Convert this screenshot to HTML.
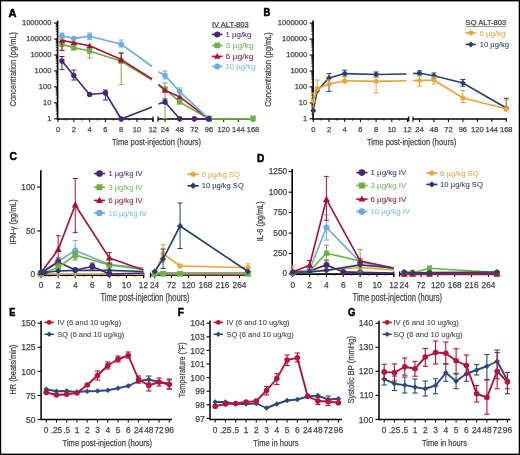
<!DOCTYPE html><html><head><meta charset="utf-8"><style>html,body{margin:0;padding:0;background:#fff;}svg{display:block;will-change:transform;}text{font-family:"Liberation Sans",sans-serif;}</style></head><body>
<svg width="520" height="455" viewBox="0 0 520 455">
<rect x="0" y="0" width="520" height="455" fill="#fff"/>
<text x="8.40" y="16.70" font-size="11.31" font-weight="bold" fill="#000" stroke="#000" stroke-width="0.55" textLength="7.90" lengthAdjust="spacingAndGlyphs">A</text>
<line x1="57.60" y1="20.50" x2="57.60" y2="119.80" stroke="#000" stroke-width="1.6"/>
<line x1="54.10" y1="118.80" x2="57.60" y2="118.80" stroke="#000" stroke-width="1.1"/>
<text x="51.50" y="120.70" font-size="7.6" fill="#474747" stroke="#474747" stroke-width="0.25" text-anchor="end">1</text>
<line x1="55.80" y1="114.00" x2="57.60" y2="114.00" stroke="#000" stroke-width="0.8"/>
<line x1="55.80" y1="111.19" x2="57.60" y2="111.19" stroke="#000" stroke-width="0.8"/>
<line x1="55.80" y1="109.20" x2="57.60" y2="109.20" stroke="#000" stroke-width="0.8"/>
<line x1="55.80" y1="107.65" x2="57.60" y2="107.65" stroke="#000" stroke-width="0.8"/>
<line x1="55.80" y1="106.39" x2="57.60" y2="106.39" stroke="#000" stroke-width="0.8"/>
<line x1="55.80" y1="105.32" x2="57.60" y2="105.32" stroke="#000" stroke-width="0.8"/>
<line x1="55.80" y1="104.40" x2="57.60" y2="104.40" stroke="#000" stroke-width="0.8"/>
<line x1="55.80" y1="103.58" x2="57.60" y2="103.58" stroke="#000" stroke-width="0.8"/>
<line x1="54.10" y1="102.85" x2="57.60" y2="102.85" stroke="#000" stroke-width="1.1"/>
<text x="51.50" y="104.75" font-size="7.6" fill="#474747" stroke="#474747" stroke-width="0.25" text-anchor="end">10</text>
<line x1="55.80" y1="98.05" x2="57.60" y2="98.05" stroke="#000" stroke-width="0.8"/>
<line x1="55.80" y1="95.24" x2="57.60" y2="95.24" stroke="#000" stroke-width="0.8"/>
<line x1="55.80" y1="93.25" x2="57.60" y2="93.25" stroke="#000" stroke-width="0.8"/>
<line x1="55.80" y1="91.70" x2="57.60" y2="91.70" stroke="#000" stroke-width="0.8"/>
<line x1="55.80" y1="90.44" x2="57.60" y2="90.44" stroke="#000" stroke-width="0.8"/>
<line x1="55.80" y1="89.37" x2="57.60" y2="89.37" stroke="#000" stroke-width="0.8"/>
<line x1="55.80" y1="88.45" x2="57.60" y2="88.45" stroke="#000" stroke-width="0.8"/>
<line x1="55.80" y1="87.63" x2="57.60" y2="87.63" stroke="#000" stroke-width="0.8"/>
<line x1="54.10" y1="86.90" x2="57.60" y2="86.90" stroke="#000" stroke-width="1.1"/>
<text x="51.50" y="88.80" font-size="7.6" fill="#474747" stroke="#474747" stroke-width="0.25" text-anchor="end">100</text>
<line x1="55.80" y1="82.10" x2="57.60" y2="82.10" stroke="#000" stroke-width="0.8"/>
<line x1="55.80" y1="79.29" x2="57.60" y2="79.29" stroke="#000" stroke-width="0.8"/>
<line x1="55.80" y1="77.30" x2="57.60" y2="77.30" stroke="#000" stroke-width="0.8"/>
<line x1="55.80" y1="75.75" x2="57.60" y2="75.75" stroke="#000" stroke-width="0.8"/>
<line x1="55.80" y1="74.49" x2="57.60" y2="74.49" stroke="#000" stroke-width="0.8"/>
<line x1="55.80" y1="73.42" x2="57.60" y2="73.42" stroke="#000" stroke-width="0.8"/>
<line x1="55.80" y1="72.50" x2="57.60" y2="72.50" stroke="#000" stroke-width="0.8"/>
<line x1="55.80" y1="71.68" x2="57.60" y2="71.68" stroke="#000" stroke-width="0.8"/>
<line x1="54.10" y1="70.95" x2="57.60" y2="70.95" stroke="#000" stroke-width="1.1"/>
<text x="51.50" y="72.85" font-size="7.6" fill="#474747" stroke="#474747" stroke-width="0.25" text-anchor="end">1000</text>
<line x1="55.80" y1="66.15" x2="57.60" y2="66.15" stroke="#000" stroke-width="0.8"/>
<line x1="55.80" y1="63.34" x2="57.60" y2="63.34" stroke="#000" stroke-width="0.8"/>
<line x1="55.80" y1="61.35" x2="57.60" y2="61.35" stroke="#000" stroke-width="0.8"/>
<line x1="55.80" y1="59.80" x2="57.60" y2="59.80" stroke="#000" stroke-width="0.8"/>
<line x1="55.80" y1="58.54" x2="57.60" y2="58.54" stroke="#000" stroke-width="0.8"/>
<line x1="55.80" y1="57.47" x2="57.60" y2="57.47" stroke="#000" stroke-width="0.8"/>
<line x1="55.80" y1="56.55" x2="57.60" y2="56.55" stroke="#000" stroke-width="0.8"/>
<line x1="55.80" y1="55.73" x2="57.60" y2="55.73" stroke="#000" stroke-width="0.8"/>
<line x1="54.10" y1="55.00" x2="57.60" y2="55.00" stroke="#000" stroke-width="1.1"/>
<text x="51.50" y="56.90" font-size="7.6" fill="#474747" stroke="#474747" stroke-width="0.25" text-anchor="end">10000</text>
<line x1="55.80" y1="50.20" x2="57.60" y2="50.20" stroke="#000" stroke-width="0.8"/>
<line x1="55.80" y1="47.39" x2="57.60" y2="47.39" stroke="#000" stroke-width="0.8"/>
<line x1="55.80" y1="45.40" x2="57.60" y2="45.40" stroke="#000" stroke-width="0.8"/>
<line x1="55.80" y1="43.85" x2="57.60" y2="43.85" stroke="#000" stroke-width="0.8"/>
<line x1="55.80" y1="42.59" x2="57.60" y2="42.59" stroke="#000" stroke-width="0.8"/>
<line x1="55.80" y1="41.52" x2="57.60" y2="41.52" stroke="#000" stroke-width="0.8"/>
<line x1="55.80" y1="40.60" x2="57.60" y2="40.60" stroke="#000" stroke-width="0.8"/>
<line x1="55.80" y1="39.78" x2="57.60" y2="39.78" stroke="#000" stroke-width="0.8"/>
<line x1="54.10" y1="39.05" x2="57.60" y2="39.05" stroke="#000" stroke-width="1.1"/>
<text x="51.50" y="40.95" font-size="7.6" fill="#474747" stroke="#474747" stroke-width="0.25" text-anchor="end">100000</text>
<line x1="55.80" y1="34.25" x2="57.60" y2="34.25" stroke="#000" stroke-width="0.8"/>
<line x1="55.80" y1="31.44" x2="57.60" y2="31.44" stroke="#000" stroke-width="0.8"/>
<line x1="55.80" y1="29.45" x2="57.60" y2="29.45" stroke="#000" stroke-width="0.8"/>
<line x1="55.80" y1="27.90" x2="57.60" y2="27.90" stroke="#000" stroke-width="0.8"/>
<line x1="55.80" y1="26.64" x2="57.60" y2="26.64" stroke="#000" stroke-width="0.8"/>
<line x1="55.80" y1="25.57" x2="57.60" y2="25.57" stroke="#000" stroke-width="0.8"/>
<line x1="55.80" y1="24.65" x2="57.60" y2="24.65" stroke="#000" stroke-width="0.8"/>
<line x1="55.80" y1="23.83" x2="57.60" y2="23.83" stroke="#000" stroke-width="0.8"/>
<line x1="54.10" y1="23.10" x2="57.60" y2="23.10" stroke="#000" stroke-width="1.1"/>
<text x="51.50" y="25.00" font-size="7.6" fill="#474747" stroke="#474747" stroke-width="0.25" text-anchor="end">1000000</text>
<line x1="57.60" y1="119.00" x2="153.00" y2="119.00" stroke="#000" stroke-width="1.6"/>
<line x1="153.00" y1="116.50" x2="153.00" y2="121.50" stroke="#000" stroke-width="1.2"/>
<line x1="58.00" y1="119.00" x2="58.00" y2="122.00" stroke="#000" stroke-width="1.0"/>
<text x="58.00" y="131.60" font-size="7.5" fill="#474747" stroke="#474747" stroke-width="0.25" text-anchor="middle">0</text>
<line x1="73.80" y1="119.00" x2="73.80" y2="122.00" stroke="#000" stroke-width="1.0"/>
<text x="73.80" y="131.60" font-size="7.5" fill="#474747" stroke="#474747" stroke-width="0.25" text-anchor="middle">2</text>
<line x1="89.60" y1="119.00" x2="89.60" y2="122.00" stroke="#000" stroke-width="1.0"/>
<text x="89.60" y="131.60" font-size="7.5" fill="#474747" stroke="#474747" stroke-width="0.25" text-anchor="middle">4</text>
<line x1="105.40" y1="119.00" x2="105.40" y2="122.00" stroke="#000" stroke-width="1.0"/>
<text x="105.40" y="131.60" font-size="7.5" fill="#474747" stroke="#474747" stroke-width="0.25" text-anchor="middle">6</text>
<line x1="121.20" y1="119.00" x2="121.20" y2="122.00" stroke="#000" stroke-width="1.0"/>
<text x="121.20" y="131.60" font-size="7.5" fill="#474747" stroke="#474747" stroke-width="0.25" text-anchor="middle">8</text>
<line x1="137.00" y1="119.00" x2="137.00" y2="122.00" stroke="#000" stroke-width="1.0"/>
<text x="137.00" y="131.60" font-size="7.5" fill="#474747" stroke="#474747" stroke-width="0.25" text-anchor="middle">10</text>
<line x1="152.80" y1="119.00" x2="152.80" y2="122.00" stroke="#000" stroke-width="1.0"/>
<text x="152.80" y="131.60" font-size="7.5" fill="#474747" stroke="#474747" stroke-width="0.25" text-anchor="middle">12</text>
<line x1="65.90" y1="119.00" x2="65.90" y2="120.60" stroke="#000" stroke-width="0.8"/>
<line x1="81.70" y1="119.00" x2="81.70" y2="120.60" stroke="#000" stroke-width="0.8"/>
<line x1="97.50" y1="119.00" x2="97.50" y2="120.60" stroke="#000" stroke-width="0.8"/>
<line x1="113.30" y1="119.00" x2="113.30" y2="120.60" stroke="#000" stroke-width="0.8"/>
<line x1="129.10" y1="119.00" x2="129.10" y2="120.60" stroke="#000" stroke-width="0.8"/>
<line x1="144.90" y1="119.00" x2="144.90" y2="120.60" stroke="#000" stroke-width="0.8"/>
<line x1="158.00" y1="116.50" x2="158.00" y2="121.50" stroke="#000" stroke-width="1.2"/>
<line x1="158.00" y1="119.00" x2="254.00" y2="119.00" stroke="#000" stroke-width="1.6"/>
<line x1="165.00" y1="119.00" x2="165.00" y2="122.00" stroke="#000" stroke-width="1.0"/>
<text x="165.00" y="131.60" font-size="7.5" fill="#474747" stroke="#474747" stroke-width="0.25" text-anchor="middle">24</text>
<line x1="179.67" y1="119.00" x2="179.67" y2="122.00" stroke="#000" stroke-width="1.0"/>
<text x="179.67" y="131.60" font-size="7.5" fill="#474747" stroke="#474747" stroke-width="0.25" text-anchor="middle">48</text>
<line x1="194.34" y1="119.00" x2="194.34" y2="122.00" stroke="#000" stroke-width="1.0"/>
<text x="194.34" y="131.60" font-size="7.5" fill="#474747" stroke="#474747" stroke-width="0.25" text-anchor="middle">72</text>
<line x1="209.01" y1="119.00" x2="209.01" y2="122.00" stroke="#000" stroke-width="1.0"/>
<text x="209.01" y="131.60" font-size="7.5" fill="#474747" stroke="#474747" stroke-width="0.25" text-anchor="middle">96</text>
<line x1="223.68" y1="119.00" x2="223.68" y2="122.00" stroke="#000" stroke-width="1.0"/>
<text x="223.68" y="131.60" font-size="7.5" fill="#474747" stroke="#474747" stroke-width="0.25" text-anchor="middle">120</text>
<line x1="238.35" y1="119.00" x2="238.35" y2="122.00" stroke="#000" stroke-width="1.0"/>
<text x="238.35" y="131.60" font-size="7.5" fill="#474747" stroke="#474747" stroke-width="0.25" text-anchor="middle">144</text>
<line x1="253.02" y1="119.00" x2="253.02" y2="122.00" stroke="#000" stroke-width="1.0"/>
<text x="253.02" y="131.60" font-size="7.5" fill="#474747" stroke="#474747" stroke-width="0.25" text-anchor="middle">168</text>
<text x="112.00" y="144.70" font-size="9.9" fill="#474747" stroke="#474747" stroke-width="0.25" font-weight="normal" textLength="89.00" lengthAdjust="spacingAndGlyphs">Time post-injection (hours)</text>
<g transform="translate(15.50,69.20) rotate(-90)"><text x="-37.30" y="0" font-size="9.6" fill="#474747" stroke="#474747" stroke-width="0.25" textLength="74.60" lengthAdjust="spacingAndGlyphs">Concentration (pg/mL)</text></g>
<text x="212.00" y="26.60" font-size="7.2" fill="#444" stroke="#444" stroke-width="0.25" font-weight="normal" textLength="36.60" lengthAdjust="spacingAndGlyphs">IV ALT-803</text>
<line x1="212.00" y1="27.60" x2="248.60" y2="27.60" stroke="#666" stroke-width="0.7"/>
<line x1="212.00" y1="34.40" x2="222.50" y2="34.40" stroke="#482672" stroke-width="1.6"/>
<circle cx="217.25" cy="34.40" r="3.00" fill="#482672"/>
<text x="225.40" y="37.00" font-size="7.6" fill="#4d3a6e" stroke="#4d3a6e" stroke-width="0.1" font-weight="normal" textLength="26.00" lengthAdjust="spacingAndGlyphs">1 µg/kg</text>
<line x1="212.00" y1="45.40" x2="222.50" y2="45.40" stroke="#6cb243" stroke-width="1.6"/>
<rect x="214.45" y="42.60" width="5.60" height="5.60" fill="#6cb243"/>
<text x="225.40" y="48.00" font-size="7.6" fill="#7fb866" stroke="#7fb866" stroke-width="0.1" font-weight="normal" textLength="28.10" lengthAdjust="spacingAndGlyphs">3 µg/kg</text>
<line x1="212.00" y1="56.40" x2="222.50" y2="56.40" stroke="#a51436" stroke-width="1.6"/>
<polygon points="217.25,53.02 220.50,58.74 214.00,58.74" fill="#a51436"/>
<text x="225.40" y="59.00" font-size="7.6" fill="#8f2444" stroke="#8f2444" stroke-width="0.1" font-weight="normal" textLength="28.10" lengthAdjust="spacingAndGlyphs">6 µg/kg</text>
<line x1="212.00" y1="66.50" x2="222.50" y2="66.50" stroke="#6cabdc" stroke-width="1.6"/>
<circle cx="217.25" cy="66.50" r="3.00" fill="#6cabdc"/>
<text x="225.40" y="69.10" font-size="7.6" fill="#86bde0" stroke="#86bde0" stroke-width="0.1" font-weight="normal" textLength="30.10" lengthAdjust="spacingAndGlyphs">10 µg/kg</text>
<polyline points="61.95,44.20 73.80,47.60 89.60,51.00 121.20,61.30 152.00,80.00" fill="none" stroke="#6cb243" stroke-width="1.65" stroke-linejoin="round"/>
<polyline points="158.50,84.70 165.00,89.00 179.67,102.00 209.01,118.80 253.02,118.80" fill="none" stroke="#6cb243" stroke-width="1.65" stroke-linejoin="round"/>
<line x1="61.95" y1="39.60" x2="61.95" y2="50.40" stroke="#6cb243" stroke-width="1.0"/>
<line x1="59.45" y1="39.60" x2="64.45" y2="39.60" stroke="#6cb243" stroke-width="1.0"/>
<line x1="59.45" y1="50.40" x2="64.45" y2="50.40" stroke="#6cb243" stroke-width="1.0"/>
<line x1="73.80" y1="45.00" x2="73.80" y2="50.00" stroke="#6cb243" stroke-width="1.0"/>
<line x1="71.30" y1="45.00" x2="76.30" y2="45.00" stroke="#6cb243" stroke-width="1.0"/>
<line x1="71.30" y1="50.00" x2="76.30" y2="50.00" stroke="#6cb243" stroke-width="1.0"/>
<line x1="89.60" y1="48.00" x2="89.60" y2="58.00" stroke="#6cb243" stroke-width="1.0"/>
<line x1="87.10" y1="48.00" x2="92.10" y2="48.00" stroke="#6cb243" stroke-width="1.0"/>
<line x1="87.10" y1="58.00" x2="92.10" y2="58.00" stroke="#6cb243" stroke-width="1.0"/>
<line x1="121.20" y1="53.00" x2="121.20" y2="84.70" stroke="#6cb243" stroke-width="1.0"/>
<line x1="118.70" y1="53.00" x2="123.70" y2="53.00" stroke="#6cb243" stroke-width="1.0"/>
<line x1="118.70" y1="84.70" x2="123.70" y2="84.70" stroke="#6cb243" stroke-width="1.0"/>
<line x1="165.00" y1="83.00" x2="165.00" y2="118.80" stroke="#6cb243" stroke-width="1.0"/>
<line x1="162.50" y1="83.00" x2="167.50" y2="83.00" stroke="#6cb243" stroke-width="1.0"/>
<line x1="162.50" y1="118.80" x2="167.50" y2="118.80" stroke="#6cb243" stroke-width="1.0"/>
<line x1="209.01" y1="116.00" x2="209.01" y2="118.80" stroke="#6cb243" stroke-width="1.0"/>
<line x1="206.51" y1="116.00" x2="211.51" y2="116.00" stroke="#6cb243" stroke-width="1.0"/>
<line x1="206.51" y1="118.80" x2="211.51" y2="118.80" stroke="#6cb243" stroke-width="1.0"/>
<line x1="253.02" y1="116.00" x2="253.02" y2="118.80" stroke="#6cb243" stroke-width="1.0"/>
<line x1="250.52" y1="116.00" x2="255.52" y2="116.00" stroke="#6cb243" stroke-width="1.0"/>
<line x1="250.52" y1="118.80" x2="255.52" y2="118.80" stroke="#6cb243" stroke-width="1.0"/>
<rect x="59.25" y="41.50" width="5.40" height="5.40" fill="#6cb243"/>
<rect x="71.10" y="44.90" width="5.40" height="5.40" fill="#6cb243"/>
<rect x="86.90" y="48.30" width="5.40" height="5.40" fill="#6cb243"/>
<rect x="118.50" y="58.60" width="5.40" height="5.40" fill="#6cb243"/>
<rect x="162.30" y="86.30" width="5.40" height="5.40" fill="#6cb243"/>
<rect x="176.97" y="99.30" width="5.40" height="5.40" fill="#6cb243"/>
<rect x="206.31" y="116.10" width="5.40" height="5.40" fill="#6cb243"/>
<rect x="250.32" y="116.10" width="5.40" height="5.40" fill="#6cb243"/>
<polyline points="61.95,40.40 73.80,42.70 89.60,45.80 121.20,59.60 152.00,79.00" fill="none" stroke="#a51436" stroke-width="1.65" stroke-linejoin="round"/>
<polyline points="158.50,84.70 165.00,90.50 179.67,96.80 209.01,118.80" fill="none" stroke="#a51436" stroke-width="1.65" stroke-linejoin="round"/>
<line x1="61.95" y1="37.00" x2="61.95" y2="50.40" stroke="#a51436" stroke-width="1.0"/>
<line x1="59.45" y1="37.00" x2="64.45" y2="37.00" stroke="#a51436" stroke-width="1.0"/>
<line x1="59.45" y1="50.40" x2="64.45" y2="50.40" stroke="#a51436" stroke-width="1.0"/>
<line x1="121.20" y1="53.00" x2="121.20" y2="62.00" stroke="#a51436" stroke-width="1.0"/>
<line x1="118.70" y1="53.00" x2="123.70" y2="53.00" stroke="#a51436" stroke-width="1.0"/>
<line x1="118.70" y1="62.00" x2="123.70" y2="62.00" stroke="#a51436" stroke-width="1.0"/>
<polygon points="61.95,37.02 65.20,42.74 58.70,42.74" fill="#a51436"/>
<polygon points="73.80,39.32 77.05,45.04 70.55,45.04" fill="#a51436"/>
<polygon points="89.60,42.42 92.85,48.14 86.35,48.14" fill="#a51436"/>
<polygon points="121.20,56.22 124.45,61.94 117.95,61.94" fill="#a51436"/>
<polygon points="165.00,87.12 168.25,92.84 161.75,92.84" fill="#a51436"/>
<polygon points="179.67,93.42 182.92,99.14 176.42,99.14" fill="#a51436"/>
<polygon points="209.01,115.42 212.26,121.14 205.76,121.14" fill="#a51436"/>
<polyline points="61.95,35.80 73.80,38.40 89.60,36.20 121.20,44.20 152.00,66.50" fill="none" stroke="#6cabdc" stroke-width="1.65" stroke-linejoin="round"/>
<polyline points="158.50,71.80 165.00,75.50 179.67,91.60 209.01,118.80" fill="none" stroke="#6cabdc" stroke-width="1.65" stroke-linejoin="round"/>
<line x1="61.95" y1="33.00" x2="61.95" y2="39.00" stroke="#6cabdc" stroke-width="1.0"/>
<line x1="59.45" y1="33.00" x2="64.45" y2="33.00" stroke="#6cabdc" stroke-width="1.0"/>
<line x1="59.45" y1="39.00" x2="64.45" y2="39.00" stroke="#6cabdc" stroke-width="1.0"/>
<line x1="89.60" y1="33.00" x2="89.60" y2="39.60" stroke="#6cabdc" stroke-width="1.0"/>
<line x1="87.10" y1="33.00" x2="92.10" y2="33.00" stroke="#6cabdc" stroke-width="1.0"/>
<line x1="87.10" y1="39.60" x2="92.10" y2="39.60" stroke="#6cabdc" stroke-width="1.0"/>
<line x1="121.20" y1="40.00" x2="121.20" y2="47.00" stroke="#6cabdc" stroke-width="1.0"/>
<line x1="118.70" y1="40.00" x2="123.70" y2="40.00" stroke="#6cabdc" stroke-width="1.0"/>
<line x1="118.70" y1="47.00" x2="123.70" y2="47.00" stroke="#6cabdc" stroke-width="1.0"/>
<line x1="165.00" y1="71.00" x2="165.00" y2="79.00" stroke="#6cabdc" stroke-width="1.0"/>
<line x1="162.50" y1="71.00" x2="167.50" y2="71.00" stroke="#6cabdc" stroke-width="1.0"/>
<line x1="162.50" y1="79.00" x2="167.50" y2="79.00" stroke="#6cabdc" stroke-width="1.0"/>
<line x1="179.67" y1="88.00" x2="179.67" y2="95.00" stroke="#6cabdc" stroke-width="1.0"/>
<line x1="177.17" y1="88.00" x2="182.17" y2="88.00" stroke="#6cabdc" stroke-width="1.0"/>
<line x1="177.17" y1="95.00" x2="182.17" y2="95.00" stroke="#6cabdc" stroke-width="1.0"/>
<circle cx="61.95" cy="35.80" r="2.70" fill="#6cabdc"/>
<circle cx="73.80" cy="38.40" r="2.70" fill="#6cabdc"/>
<circle cx="89.60" cy="36.20" r="2.70" fill="#6cabdc"/>
<circle cx="121.20" cy="44.20" r="2.70" fill="#6cabdc"/>
<circle cx="165.00" cy="75.50" r="2.70" fill="#6cabdc"/>
<circle cx="179.67" cy="91.60" r="2.70" fill="#6cabdc"/>
<circle cx="209.01" cy="118.80" r="2.70" fill="#6cabdc"/>
<polyline points="61.95,61.00 73.80,75.50 89.60,94.50 105.40,93.00 121.20,119.00 152.00,107.00" fill="none" stroke="#482672" stroke-width="1.65" stroke-linejoin="round"/>
<polyline points="158.50,104.00 165.00,102.00 179.67,118.80 194.34,118.80 209.01,118.80" fill="none" stroke="#482672" stroke-width="1.65" stroke-linejoin="round"/>
<line x1="61.95" y1="56.50" x2="61.95" y2="69.60" stroke="#482672" stroke-width="1.0"/>
<line x1="59.45" y1="56.50" x2="64.45" y2="56.50" stroke="#482672" stroke-width="1.0"/>
<line x1="59.45" y1="69.60" x2="64.45" y2="69.60" stroke="#482672" stroke-width="1.0"/>
<line x1="73.80" y1="70.00" x2="73.80" y2="80.00" stroke="#482672" stroke-width="1.0"/>
<line x1="71.30" y1="70.00" x2="76.30" y2="70.00" stroke="#482672" stroke-width="1.0"/>
<line x1="71.30" y1="80.00" x2="76.30" y2="80.00" stroke="#482672" stroke-width="1.0"/>
<line x1="105.40" y1="90.00" x2="105.40" y2="100.00" stroke="#482672" stroke-width="1.0"/>
<line x1="102.90" y1="90.00" x2="107.90" y2="90.00" stroke="#482672" stroke-width="1.0"/>
<line x1="102.90" y1="100.00" x2="107.90" y2="100.00" stroke="#482672" stroke-width="1.0"/>
<line x1="165.00" y1="99.00" x2="165.00" y2="103.00" stroke="#482672" stroke-width="1.0"/>
<line x1="162.50" y1="99.00" x2="167.50" y2="99.00" stroke="#482672" stroke-width="1.0"/>
<line x1="162.50" y1="103.00" x2="167.50" y2="103.00" stroke="#482672" stroke-width="1.0"/>
<circle cx="61.95" cy="61.00" r="2.70" fill="#482672"/>
<circle cx="73.80" cy="75.50" r="2.70" fill="#482672"/>
<circle cx="89.60" cy="94.50" r="2.70" fill="#482672"/>
<circle cx="105.40" cy="93.00" r="2.70" fill="#482672"/>
<circle cx="121.20" cy="119.00" r="2.70" fill="#482672"/>
<circle cx="165.00" cy="102.00" r="2.70" fill="#482672"/>
<circle cx="179.67" cy="118.80" r="2.70" fill="#482672"/>
<circle cx="194.34" cy="118.80" r="2.70" fill="#482672"/>
<circle cx="209.01" cy="118.80" r="2.70" fill="#482672"/>
<text x="263.40" y="16.20" font-size="10.34" font-weight="bold" fill="#000" stroke="#000" stroke-width="0.55" textLength="6.80" lengthAdjust="spacingAndGlyphs">B</text>
<line x1="313.10" y1="20.50" x2="313.10" y2="119.80" stroke="#000" stroke-width="1.6"/>
<line x1="309.60" y1="118.80" x2="313.10" y2="118.80" stroke="#000" stroke-width="1.1"/>
<text x="307.30" y="120.70" font-size="7.6" fill="#474747" stroke="#474747" stroke-width="0.25" text-anchor="end">1</text>
<line x1="311.30" y1="114.00" x2="313.10" y2="114.00" stroke="#000" stroke-width="0.8"/>
<line x1="311.30" y1="111.19" x2="313.10" y2="111.19" stroke="#000" stroke-width="0.8"/>
<line x1="311.30" y1="109.20" x2="313.10" y2="109.20" stroke="#000" stroke-width="0.8"/>
<line x1="311.30" y1="107.65" x2="313.10" y2="107.65" stroke="#000" stroke-width="0.8"/>
<line x1="311.30" y1="106.39" x2="313.10" y2="106.39" stroke="#000" stroke-width="0.8"/>
<line x1="311.30" y1="105.32" x2="313.10" y2="105.32" stroke="#000" stroke-width="0.8"/>
<line x1="311.30" y1="104.40" x2="313.10" y2="104.40" stroke="#000" stroke-width="0.8"/>
<line x1="311.30" y1="103.58" x2="313.10" y2="103.58" stroke="#000" stroke-width="0.8"/>
<line x1="309.60" y1="102.85" x2="313.10" y2="102.85" stroke="#000" stroke-width="1.1"/>
<text x="307.30" y="104.75" font-size="7.6" fill="#474747" stroke="#474747" stroke-width="0.25" text-anchor="end">10</text>
<line x1="311.30" y1="98.05" x2="313.10" y2="98.05" stroke="#000" stroke-width="0.8"/>
<line x1="311.30" y1="95.24" x2="313.10" y2="95.24" stroke="#000" stroke-width="0.8"/>
<line x1="311.30" y1="93.25" x2="313.10" y2="93.25" stroke="#000" stroke-width="0.8"/>
<line x1="311.30" y1="91.70" x2="313.10" y2="91.70" stroke="#000" stroke-width="0.8"/>
<line x1="311.30" y1="90.44" x2="313.10" y2="90.44" stroke="#000" stroke-width="0.8"/>
<line x1="311.30" y1="89.37" x2="313.10" y2="89.37" stroke="#000" stroke-width="0.8"/>
<line x1="311.30" y1="88.45" x2="313.10" y2="88.45" stroke="#000" stroke-width="0.8"/>
<line x1="311.30" y1="87.63" x2="313.10" y2="87.63" stroke="#000" stroke-width="0.8"/>
<line x1="309.60" y1="86.90" x2="313.10" y2="86.90" stroke="#000" stroke-width="1.1"/>
<text x="307.30" y="88.80" font-size="7.6" fill="#474747" stroke="#474747" stroke-width="0.25" text-anchor="end">100</text>
<line x1="311.30" y1="82.10" x2="313.10" y2="82.10" stroke="#000" stroke-width="0.8"/>
<line x1="311.30" y1="79.29" x2="313.10" y2="79.29" stroke="#000" stroke-width="0.8"/>
<line x1="311.30" y1="77.30" x2="313.10" y2="77.30" stroke="#000" stroke-width="0.8"/>
<line x1="311.30" y1="75.75" x2="313.10" y2="75.75" stroke="#000" stroke-width="0.8"/>
<line x1="311.30" y1="74.49" x2="313.10" y2="74.49" stroke="#000" stroke-width="0.8"/>
<line x1="311.30" y1="73.42" x2="313.10" y2="73.42" stroke="#000" stroke-width="0.8"/>
<line x1="311.30" y1="72.50" x2="313.10" y2="72.50" stroke="#000" stroke-width="0.8"/>
<line x1="311.30" y1="71.68" x2="313.10" y2="71.68" stroke="#000" stroke-width="0.8"/>
<line x1="309.60" y1="70.95" x2="313.10" y2="70.95" stroke="#000" stroke-width="1.1"/>
<text x="307.30" y="72.85" font-size="7.6" fill="#474747" stroke="#474747" stroke-width="0.25" text-anchor="end">1000</text>
<line x1="311.30" y1="66.15" x2="313.10" y2="66.15" stroke="#000" stroke-width="0.8"/>
<line x1="311.30" y1="63.34" x2="313.10" y2="63.34" stroke="#000" stroke-width="0.8"/>
<line x1="311.30" y1="61.35" x2="313.10" y2="61.35" stroke="#000" stroke-width="0.8"/>
<line x1="311.30" y1="59.80" x2="313.10" y2="59.80" stroke="#000" stroke-width="0.8"/>
<line x1="311.30" y1="58.54" x2="313.10" y2="58.54" stroke="#000" stroke-width="0.8"/>
<line x1="311.30" y1="57.47" x2="313.10" y2="57.47" stroke="#000" stroke-width="0.8"/>
<line x1="311.30" y1="56.55" x2="313.10" y2="56.55" stroke="#000" stroke-width="0.8"/>
<line x1="311.30" y1="55.73" x2="313.10" y2="55.73" stroke="#000" stroke-width="0.8"/>
<line x1="309.60" y1="55.00" x2="313.10" y2="55.00" stroke="#000" stroke-width="1.1"/>
<text x="307.30" y="56.90" font-size="7.6" fill="#474747" stroke="#474747" stroke-width="0.25" text-anchor="end">10000</text>
<line x1="311.30" y1="50.20" x2="313.10" y2="50.20" stroke="#000" stroke-width="0.8"/>
<line x1="311.30" y1="47.39" x2="313.10" y2="47.39" stroke="#000" stroke-width="0.8"/>
<line x1="311.30" y1="45.40" x2="313.10" y2="45.40" stroke="#000" stroke-width="0.8"/>
<line x1="311.30" y1="43.85" x2="313.10" y2="43.85" stroke="#000" stroke-width="0.8"/>
<line x1="311.30" y1="42.59" x2="313.10" y2="42.59" stroke="#000" stroke-width="0.8"/>
<line x1="311.30" y1="41.52" x2="313.10" y2="41.52" stroke="#000" stroke-width="0.8"/>
<line x1="311.30" y1="40.60" x2="313.10" y2="40.60" stroke="#000" stroke-width="0.8"/>
<line x1="311.30" y1="39.78" x2="313.10" y2="39.78" stroke="#000" stroke-width="0.8"/>
<line x1="309.60" y1="39.05" x2="313.10" y2="39.05" stroke="#000" stroke-width="1.1"/>
<text x="307.30" y="40.95" font-size="7.6" fill="#474747" stroke="#474747" stroke-width="0.25" text-anchor="end">100000</text>
<line x1="311.30" y1="34.25" x2="313.10" y2="34.25" stroke="#000" stroke-width="0.8"/>
<line x1="311.30" y1="31.44" x2="313.10" y2="31.44" stroke="#000" stroke-width="0.8"/>
<line x1="311.30" y1="29.45" x2="313.10" y2="29.45" stroke="#000" stroke-width="0.8"/>
<line x1="311.30" y1="27.90" x2="313.10" y2="27.90" stroke="#000" stroke-width="0.8"/>
<line x1="311.30" y1="26.64" x2="313.10" y2="26.64" stroke="#000" stroke-width="0.8"/>
<line x1="311.30" y1="25.57" x2="313.10" y2="25.57" stroke="#000" stroke-width="0.8"/>
<line x1="311.30" y1="24.65" x2="313.10" y2="24.65" stroke="#000" stroke-width="0.8"/>
<line x1="311.30" y1="23.83" x2="313.10" y2="23.83" stroke="#000" stroke-width="0.8"/>
<line x1="309.60" y1="23.10" x2="313.10" y2="23.10" stroke="#000" stroke-width="1.1"/>
<text x="307.30" y="25.00" font-size="7.6" fill="#474747" stroke="#474747" stroke-width="0.25" text-anchor="end">1000000</text>
<line x1="313.10" y1="119.00" x2="408.70" y2="119.00" stroke="#000" stroke-width="1.6"/>
<line x1="408.70" y1="116.50" x2="408.70" y2="121.50" stroke="#000" stroke-width="1.2"/>
<line x1="313.30" y1="119.00" x2="313.30" y2="122.00" stroke="#000" stroke-width="1.0"/>
<text x="313.30" y="131.60" font-size="7.5" fill="#474747" stroke="#474747" stroke-width="0.25" text-anchor="middle">0</text>
<line x1="329.00" y1="119.00" x2="329.00" y2="122.00" stroke="#000" stroke-width="1.0"/>
<text x="329.00" y="131.60" font-size="7.5" fill="#474747" stroke="#474747" stroke-width="0.25" text-anchor="middle">2</text>
<line x1="344.70" y1="119.00" x2="344.70" y2="122.00" stroke="#000" stroke-width="1.0"/>
<text x="344.70" y="131.60" font-size="7.5" fill="#474747" stroke="#474747" stroke-width="0.25" text-anchor="middle">4</text>
<line x1="360.40" y1="119.00" x2="360.40" y2="122.00" stroke="#000" stroke-width="1.0"/>
<text x="360.40" y="131.60" font-size="7.5" fill="#474747" stroke="#474747" stroke-width="0.25" text-anchor="middle">6</text>
<line x1="376.10" y1="119.00" x2="376.10" y2="122.00" stroke="#000" stroke-width="1.0"/>
<text x="376.10" y="131.60" font-size="7.5" fill="#474747" stroke="#474747" stroke-width="0.25" text-anchor="middle">8</text>
<line x1="391.80" y1="119.00" x2="391.80" y2="122.00" stroke="#000" stroke-width="1.0"/>
<text x="391.80" y="131.60" font-size="7.5" fill="#474747" stroke="#474747" stroke-width="0.25" text-anchor="middle">10</text>
<line x1="407.50" y1="119.00" x2="407.50" y2="122.00" stroke="#000" stroke-width="1.0"/>
<text x="407.50" y="131.60" font-size="7.5" fill="#474747" stroke="#474747" stroke-width="0.25" text-anchor="middle">12</text>
<line x1="321.15" y1="119.00" x2="321.15" y2="120.60" stroke="#000" stroke-width="0.8"/>
<line x1="336.85" y1="119.00" x2="336.85" y2="120.60" stroke="#000" stroke-width="0.8"/>
<line x1="352.55" y1="119.00" x2="352.55" y2="120.60" stroke="#000" stroke-width="0.8"/>
<line x1="368.25" y1="119.00" x2="368.25" y2="120.60" stroke="#000" stroke-width="0.8"/>
<line x1="383.95" y1="119.00" x2="383.95" y2="120.60" stroke="#000" stroke-width="0.8"/>
<line x1="399.65" y1="119.00" x2="399.65" y2="120.60" stroke="#000" stroke-width="0.8"/>
<line x1="413.00" y1="116.50" x2="413.00" y2="121.50" stroke="#000" stroke-width="1.2"/>
<line x1="413.00" y1="119.00" x2="507.00" y2="119.00" stroke="#000" stroke-width="1.6"/>
<line x1="419.50" y1="119.00" x2="419.50" y2="122.00" stroke="#000" stroke-width="1.0"/>
<text x="419.50" y="131.60" font-size="7.5" fill="#474747" stroke="#474747" stroke-width="0.25" text-anchor="middle">24</text>
<line x1="433.96" y1="119.00" x2="433.96" y2="122.00" stroke="#000" stroke-width="1.0"/>
<text x="433.96" y="131.60" font-size="7.5" fill="#474747" stroke="#474747" stroke-width="0.25" text-anchor="middle">48</text>
<line x1="448.42" y1="119.00" x2="448.42" y2="122.00" stroke="#000" stroke-width="1.0"/>
<text x="448.42" y="131.60" font-size="7.5" fill="#474747" stroke="#474747" stroke-width="0.25" text-anchor="middle">72</text>
<line x1="462.88" y1="119.00" x2="462.88" y2="122.00" stroke="#000" stroke-width="1.0"/>
<text x="462.88" y="131.60" font-size="7.5" fill="#474747" stroke="#474747" stroke-width="0.25" text-anchor="middle">96</text>
<line x1="477.34" y1="119.00" x2="477.34" y2="122.00" stroke="#000" stroke-width="1.0"/>
<text x="477.34" y="131.60" font-size="7.5" fill="#474747" stroke="#474747" stroke-width="0.25" text-anchor="middle">120</text>
<line x1="491.80" y1="119.00" x2="491.80" y2="122.00" stroke="#000" stroke-width="1.0"/>
<text x="491.80" y="131.60" font-size="7.5" fill="#474747" stroke="#474747" stroke-width="0.25" text-anchor="middle">144</text>
<line x1="506.26" y1="119.00" x2="506.26" y2="122.00" stroke="#000" stroke-width="1.0"/>
<text x="506.26" y="131.60" font-size="7.5" fill="#474747" stroke="#474747" stroke-width="0.25" text-anchor="middle">168</text>
<text x="367.00" y="144.60" font-size="9.9" fill="#474747" stroke="#474747" stroke-width="0.25" font-weight="normal" textLength="89.25" lengthAdjust="spacingAndGlyphs">Time post-injection (hours)</text>
<g transform="translate(271.40,69.50) rotate(-90)"><text x="-37.30" y="0" font-size="9.6" fill="#474747" stroke="#474747" stroke-width="0.25" textLength="74.60" lengthAdjust="spacingAndGlyphs">Concentration (pg/mL)</text></g>
<text x="465.60" y="25.10" font-size="7.2" fill="#444" stroke="#444" stroke-width="0.25" font-weight="normal" textLength="40.65" lengthAdjust="spacingAndGlyphs">SQ ALT-803</text>
<line x1="465.60" y1="26.60" x2="506.25" y2="26.60" stroke="#666" stroke-width="0.7"/>
<line x1="465.60" y1="32.90" x2="476.00" y2="32.90" stroke="#e6a43a" stroke-width="1.6"/>
<g stroke="#e6a43a" stroke-width="1.4"><line x1="468.20" y1="32.90" x2="473.40" y2="32.90"/><line x1="470.80" y1="30.30" x2="470.80" y2="35.50"/><line x1="468.98" y1="31.08" x2="472.62" y2="34.72"/><line x1="468.98" y1="34.72" x2="472.62" y2="31.08"/></g><circle cx="470.80" cy="32.90" r="1.17" fill="#e6a43a"/>
<text x="479.40" y="35.50" font-size="7.6" fill="#e0ad5a" stroke="#e0ad5a" stroke-width="0.1" font-weight="normal" textLength="26.20" lengthAdjust="spacingAndGlyphs">6 µg/kg</text>
<line x1="465.60" y1="44.40" x2="476.00" y2="44.40" stroke="#24406c" stroke-width="1.6"/>
<polygon points="470.80,41.40 473.80,44.40 470.80,47.40 467.80,44.40" fill="#24406c"/>
<text x="479.75" y="47.00" font-size="7.6" fill="#34466a" stroke="#34466a" stroke-width="0.1" font-weight="normal" textLength="29.25" lengthAdjust="spacingAndGlyphs">10 µg/kg</text>
<polyline points="313.30,110.70 317.23,90.70 329.00,77.90 344.70,73.60 376.10,74.50 406.50,74.00" fill="none" stroke="#24406c" stroke-width="1.6" stroke-linejoin="round"/>
<polyline points="413.00,73.50 419.50,73.30 433.96,75.75 462.88,83.00 506.26,108.00" fill="none" stroke="#24406c" stroke-width="1.6" stroke-linejoin="round"/>
<line x1="329.00" y1="73.60" x2="329.00" y2="91.40" stroke="#24406c" stroke-width="1.0"/>
<line x1="326.50" y1="73.60" x2="331.50" y2="73.60" stroke="#24406c" stroke-width="1.0"/>
<line x1="326.50" y1="91.40" x2="331.50" y2="91.40" stroke="#24406c" stroke-width="1.0"/>
<line x1="344.70" y1="70.20" x2="344.70" y2="76.00" stroke="#24406c" stroke-width="1.0"/>
<line x1="342.20" y1="70.20" x2="347.20" y2="70.20" stroke="#24406c" stroke-width="1.0"/>
<line x1="342.20" y1="76.00" x2="347.20" y2="76.00" stroke="#24406c" stroke-width="1.0"/>
<line x1="376.10" y1="72.00" x2="376.10" y2="77.00" stroke="#24406c" stroke-width="1.0"/>
<line x1="373.60" y1="72.00" x2="378.60" y2="72.00" stroke="#24406c" stroke-width="1.0"/>
<line x1="373.60" y1="77.00" x2="378.60" y2="77.00" stroke="#24406c" stroke-width="1.0"/>
<line x1="419.50" y1="70.75" x2="419.50" y2="75.00" stroke="#24406c" stroke-width="1.0"/>
<line x1="417.00" y1="70.75" x2="422.00" y2="70.75" stroke="#24406c" stroke-width="1.0"/>
<line x1="417.00" y1="75.00" x2="422.00" y2="75.00" stroke="#24406c" stroke-width="1.0"/>
<line x1="433.96" y1="73.00" x2="433.96" y2="78.00" stroke="#24406c" stroke-width="1.0"/>
<line x1="431.46" y1="73.00" x2="436.46" y2="73.00" stroke="#24406c" stroke-width="1.0"/>
<line x1="431.46" y1="78.00" x2="436.46" y2="78.00" stroke="#24406c" stroke-width="1.0"/>
<line x1="462.88" y1="79.50" x2="462.88" y2="86.25" stroke="#24406c" stroke-width="1.0"/>
<line x1="460.38" y1="79.50" x2="465.38" y2="79.50" stroke="#24406c" stroke-width="1.0"/>
<line x1="460.38" y1="86.25" x2="465.38" y2="86.25" stroke="#24406c" stroke-width="1.0"/>
<line x1="506.26" y1="98.25" x2="506.26" y2="108.00" stroke="#24406c" stroke-width="1.0"/>
<line x1="503.76" y1="98.25" x2="508.76" y2="98.25" stroke="#24406c" stroke-width="1.0"/>
<line x1="503.76" y1="108.00" x2="508.76" y2="108.00" stroke="#24406c" stroke-width="1.0"/>
<polygon points="313.30,107.70 316.30,110.70 313.30,113.70 310.30,110.70" fill="#24406c"/>
<polygon points="317.23,87.70 320.23,90.70 317.23,93.70 314.23,90.70" fill="#24406c"/>
<polygon points="329.00,74.90 332.00,77.90 329.00,80.90 326.00,77.90" fill="#24406c"/>
<polygon points="344.70,70.60 347.70,73.60 344.70,76.60 341.70,73.60" fill="#24406c"/>
<polygon points="376.10,71.50 379.10,74.50 376.10,77.50 373.10,74.50" fill="#24406c"/>
<polygon points="419.50,70.30 422.50,73.30 419.50,76.30 416.50,73.30" fill="#24406c"/>
<polygon points="433.96,72.75 436.96,75.75 433.96,78.75 430.96,75.75" fill="#24406c"/>
<polygon points="462.88,80.00 465.88,83.00 462.88,86.00 459.88,83.00" fill="#24406c"/>
<polygon points="506.26,105.00 509.26,108.00 506.26,111.00 503.26,108.00" fill="#24406c"/>
<polyline points="313.30,101.00 317.23,88.60 329.00,84.20 344.70,80.80 376.10,81.40 406.50,80.80" fill="none" stroke="#e6a43a" stroke-width="1.6" stroke-linejoin="round"/>
<polyline points="413.00,80.60 419.50,80.50 433.96,80.00 462.88,98.00 506.26,108.75" fill="none" stroke="#e6a43a" stroke-width="1.6" stroke-linejoin="round"/>
<line x1="313.30" y1="93.00" x2="313.30" y2="107.00" stroke="#e6a43a" stroke-width="1.0"/>
<line x1="310.80" y1="93.00" x2="315.80" y2="93.00" stroke="#e6a43a" stroke-width="1.0"/>
<line x1="310.80" y1="107.00" x2="315.80" y2="107.00" stroke="#e6a43a" stroke-width="1.0"/>
<line x1="317.23" y1="80.00" x2="317.23" y2="91.00" stroke="#e6a43a" stroke-width="1.0"/>
<line x1="314.73" y1="80.00" x2="319.73" y2="80.00" stroke="#e6a43a" stroke-width="1.0"/>
<line x1="314.73" y1="91.00" x2="319.73" y2="91.00" stroke="#e6a43a" stroke-width="1.0"/>
<line x1="329.00" y1="80.00" x2="329.00" y2="85.00" stroke="#e6a43a" stroke-width="1.0"/>
<line x1="326.50" y1="80.00" x2="331.50" y2="80.00" stroke="#e6a43a" stroke-width="1.0"/>
<line x1="326.50" y1="85.00" x2="331.50" y2="85.00" stroke="#e6a43a" stroke-width="1.0"/>
<line x1="344.70" y1="77.00" x2="344.70" y2="83.00" stroke="#e6a43a" stroke-width="1.0"/>
<line x1="342.20" y1="77.00" x2="347.20" y2="77.00" stroke="#e6a43a" stroke-width="1.0"/>
<line x1="342.20" y1="83.00" x2="347.20" y2="83.00" stroke="#e6a43a" stroke-width="1.0"/>
<line x1="376.10" y1="77.20" x2="376.10" y2="93.00" stroke="#e6a43a" stroke-width="1.0"/>
<line x1="373.60" y1="77.20" x2="378.60" y2="77.20" stroke="#e6a43a" stroke-width="1.0"/>
<line x1="373.60" y1="93.00" x2="378.60" y2="93.00" stroke="#e6a43a" stroke-width="1.0"/>
<line x1="419.50" y1="76.00" x2="419.50" y2="86.00" stroke="#e6a43a" stroke-width="1.0"/>
<line x1="417.00" y1="76.00" x2="422.00" y2="76.00" stroke="#e6a43a" stroke-width="1.0"/>
<line x1="417.00" y1="86.00" x2="422.00" y2="86.00" stroke="#e6a43a" stroke-width="1.0"/>
<line x1="433.96" y1="77.00" x2="433.96" y2="84.00" stroke="#e6a43a" stroke-width="1.0"/>
<line x1="431.46" y1="77.00" x2="436.46" y2="77.00" stroke="#e6a43a" stroke-width="1.0"/>
<line x1="431.46" y1="84.00" x2="436.46" y2="84.00" stroke="#e6a43a" stroke-width="1.0"/>
<line x1="462.88" y1="90.50" x2="462.88" y2="102.50" stroke="#e6a43a" stroke-width="1.0"/>
<line x1="460.38" y1="90.50" x2="465.38" y2="90.50" stroke="#e6a43a" stroke-width="1.0"/>
<line x1="460.38" y1="102.50" x2="465.38" y2="102.50" stroke="#e6a43a" stroke-width="1.0"/>
<line x1="506.26" y1="100.00" x2="506.26" y2="111.00" stroke="#e6a43a" stroke-width="1.0"/>
<line x1="503.76" y1="100.00" x2="508.76" y2="100.00" stroke="#e6a43a" stroke-width="1.0"/>
<line x1="503.76" y1="111.00" x2="508.76" y2="111.00" stroke="#e6a43a" stroke-width="1.0"/>
<g stroke="#e6a43a" stroke-width="1.4"><line x1="310.70" y1="101.00" x2="315.90" y2="101.00"/><line x1="313.30" y1="98.40" x2="313.30" y2="103.60"/><line x1="311.48" y1="99.18" x2="315.12" y2="102.82"/><line x1="311.48" y1="102.82" x2="315.12" y2="99.18"/></g><circle cx="313.30" cy="101.00" r="1.17" fill="#e6a43a"/>
<g stroke="#e6a43a" stroke-width="1.4"><line x1="314.62" y1="88.60" x2="319.83" y2="88.60"/><line x1="317.23" y1="86.00" x2="317.23" y2="91.20"/><line x1="315.41" y1="86.78" x2="319.05" y2="90.42"/><line x1="315.41" y1="90.42" x2="319.05" y2="86.78"/></g><circle cx="317.23" cy="88.60" r="1.17" fill="#e6a43a"/>
<g stroke="#e6a43a" stroke-width="1.4"><line x1="326.40" y1="84.20" x2="331.60" y2="84.20"/><line x1="329.00" y1="81.60" x2="329.00" y2="86.80"/><line x1="327.18" y1="82.38" x2="330.82" y2="86.02"/><line x1="327.18" y1="86.02" x2="330.82" y2="82.38"/></g><circle cx="329.00" cy="84.20" r="1.17" fill="#e6a43a"/>
<g stroke="#e6a43a" stroke-width="1.4"><line x1="342.10" y1="80.80" x2="347.30" y2="80.80"/><line x1="344.70" y1="78.20" x2="344.70" y2="83.40"/><line x1="342.88" y1="78.98" x2="346.52" y2="82.62"/><line x1="342.88" y1="82.62" x2="346.52" y2="78.98"/></g><circle cx="344.70" cy="80.80" r="1.17" fill="#e6a43a"/>
<g stroke="#e6a43a" stroke-width="1.4"><line x1="373.50" y1="81.40" x2="378.70" y2="81.40"/><line x1="376.10" y1="78.80" x2="376.10" y2="84.00"/><line x1="374.28" y1="79.58" x2="377.92" y2="83.22"/><line x1="374.28" y1="83.22" x2="377.92" y2="79.58"/></g><circle cx="376.10" cy="81.40" r="1.17" fill="#e6a43a"/>
<g stroke="#e6a43a" stroke-width="1.4"><line x1="416.90" y1="80.50" x2="422.10" y2="80.50"/><line x1="419.50" y1="77.90" x2="419.50" y2="83.10"/><line x1="417.68" y1="78.68" x2="421.32" y2="82.32"/><line x1="417.68" y1="82.32" x2="421.32" y2="78.68"/></g><circle cx="419.50" cy="80.50" r="1.17" fill="#e6a43a"/>
<g stroke="#e6a43a" stroke-width="1.4"><line x1="431.36" y1="80.00" x2="436.56" y2="80.00"/><line x1="433.96" y1="77.40" x2="433.96" y2="82.60"/><line x1="432.14" y1="78.18" x2="435.78" y2="81.82"/><line x1="432.14" y1="81.82" x2="435.78" y2="78.18"/></g><circle cx="433.96" cy="80.00" r="1.17" fill="#e6a43a"/>
<g stroke="#e6a43a" stroke-width="1.4"><line x1="460.28" y1="98.00" x2="465.48" y2="98.00"/><line x1="462.88" y1="95.40" x2="462.88" y2="100.60"/><line x1="461.06" y1="96.18" x2="464.70" y2="99.82"/><line x1="461.06" y1="99.82" x2="464.70" y2="96.18"/></g><circle cx="462.88" cy="98.00" r="1.17" fill="#e6a43a"/>
<g stroke="#e6a43a" stroke-width="1.4"><line x1="503.66" y1="108.75" x2="508.86" y2="108.75"/><line x1="506.26" y1="106.15" x2="506.26" y2="111.35"/><line x1="504.44" y1="106.93" x2="508.08" y2="110.57"/><line x1="504.44" y1="110.57" x2="508.08" y2="106.93"/></g><circle cx="506.26" cy="108.75" r="1.17" fill="#e6a43a"/>
<text x="9.40" y="160.30" font-size="11.03" font-weight="bold" fill="#000" stroke="#000" stroke-width="0.55" textLength="7.40" lengthAdjust="spacingAndGlyphs">C</text>
<line x1="40.80" y1="170.20" x2="40.80" y2="276.00" stroke="#000" stroke-width="1.6"/>
<line x1="37.30" y1="274.20" x2="40.80" y2="274.20" stroke="#000" stroke-width="1.1"/>
<text x="35.20" y="276.80" font-size="8.3" fill="#474747" stroke="#474747" stroke-width="0.25" text-anchor="end">0</text>
<line x1="37.30" y1="231.00" x2="40.80" y2="231.00" stroke="#000" stroke-width="1.1"/>
<text x="35.20" y="233.60" font-size="8.3" fill="#474747" stroke="#474747" stroke-width="0.25" text-anchor="end">50</text>
<line x1="37.30" y1="187.00" x2="40.80" y2="187.00" stroke="#000" stroke-width="1.1"/>
<text x="35.20" y="189.60" font-size="8.3" fill="#474747" stroke="#474747" stroke-width="0.25" text-anchor="end">100</text>
<line x1="40.80" y1="275.20" x2="143.80" y2="275.20" stroke="#000" stroke-width="1.6"/>
<line x1="143.80" y1="272.70" x2="143.80" y2="277.70" stroke="#000" stroke-width="1.2"/>
<line x1="41.10" y1="275.20" x2="41.10" y2="278.20" stroke="#000" stroke-width="1.0"/>
<text x="41.10" y="288.00" font-size="8.3" fill="#474747" stroke="#474747" stroke-width="0.25" text-anchor="middle">0</text>
<line x1="58.16" y1="275.20" x2="58.16" y2="278.20" stroke="#000" stroke-width="1.0"/>
<text x="58.16" y="288.00" font-size="8.3" fill="#474747" stroke="#474747" stroke-width="0.25" text-anchor="middle">2</text>
<line x1="75.22" y1="275.20" x2="75.22" y2="278.20" stroke="#000" stroke-width="1.0"/>
<text x="75.22" y="288.00" font-size="8.3" fill="#474747" stroke="#474747" stroke-width="0.25" text-anchor="middle">4</text>
<line x1="92.28" y1="275.20" x2="92.28" y2="278.20" stroke="#000" stroke-width="1.0"/>
<text x="92.28" y="288.00" font-size="8.3" fill="#474747" stroke="#474747" stroke-width="0.25" text-anchor="middle">6</text>
<line x1="109.34" y1="275.20" x2="109.34" y2="278.20" stroke="#000" stroke-width="1.0"/>
<text x="109.34" y="288.00" font-size="8.3" fill="#474747" stroke="#474747" stroke-width="0.25" text-anchor="middle">8</text>
<line x1="126.40" y1="275.20" x2="126.40" y2="278.20" stroke="#000" stroke-width="1.0"/>
<text x="126.40" y="288.00" font-size="8.3" fill="#474747" stroke="#474747" stroke-width="0.25" text-anchor="middle">10</text>
<line x1="143.46" y1="275.20" x2="143.46" y2="278.20" stroke="#000" stroke-width="1.0"/>
<text x="143.46" y="288.00" font-size="8.3" fill="#474747" stroke="#474747" stroke-width="0.25" text-anchor="middle">12</text>
<line x1="49.63" y1="275.20" x2="49.63" y2="276.80" stroke="#000" stroke-width="0.8"/>
<line x1="66.69" y1="275.20" x2="66.69" y2="276.80" stroke="#000" stroke-width="0.8"/>
<line x1="83.75" y1="275.20" x2="83.75" y2="276.80" stroke="#000" stroke-width="0.8"/>
<line x1="100.81" y1="275.20" x2="100.81" y2="276.80" stroke="#000" stroke-width="0.8"/>
<line x1="117.87" y1="275.20" x2="117.87" y2="276.80" stroke="#000" stroke-width="0.8"/>
<line x1="134.93" y1="275.20" x2="134.93" y2="276.80" stroke="#000" stroke-width="0.8"/>
<line x1="150.50" y1="272.70" x2="150.50" y2="277.70" stroke="#000" stroke-width="1.2"/>
<line x1="150.50" y1="275.20" x2="250.00" y2="275.20" stroke="#000" stroke-width="1.6"/>
<line x1="154.60" y1="275.20" x2="154.60" y2="278.20" stroke="#000" stroke-width="1.0"/>
<text x="154.60" y="288.00" font-size="8.3" fill="#474747" stroke="#474747" stroke-width="0.25" text-anchor="middle">24</text>
<line x1="171.57" y1="275.20" x2="171.57" y2="278.20" stroke="#000" stroke-width="1.0"/>
<text x="171.57" y="288.00" font-size="8.3" fill="#474747" stroke="#474747" stroke-width="0.25" text-anchor="middle">72</text>
<line x1="188.54" y1="275.20" x2="188.54" y2="278.20" stroke="#000" stroke-width="1.0"/>
<text x="188.54" y="288.00" font-size="8.3" fill="#474747" stroke="#474747" stroke-width="0.25" text-anchor="middle">120</text>
<line x1="205.50" y1="275.20" x2="205.50" y2="278.20" stroke="#000" stroke-width="1.0"/>
<text x="205.50" y="288.00" font-size="8.3" fill="#474747" stroke="#474747" stroke-width="0.25" text-anchor="middle">168</text>
<line x1="222.47" y1="275.20" x2="222.47" y2="278.20" stroke="#000" stroke-width="1.0"/>
<text x="222.47" y="288.00" font-size="8.3" fill="#474747" stroke="#474747" stroke-width="0.25" text-anchor="middle">216</text>
<line x1="239.44" y1="275.20" x2="239.44" y2="278.20" stroke="#000" stroke-width="1.0"/>
<text x="239.44" y="288.00" font-size="8.3" fill="#474747" stroke="#474747" stroke-width="0.25" text-anchor="middle">264</text>
<text x="100.40" y="300.80" font-size="10.0" fill="#474747" stroke="#474747" stroke-width="0.25" font-weight="normal" textLength="89.10" lengthAdjust="spacingAndGlyphs">Time post-injection (hours)</text>
<g transform="translate(15.80,221.85) rotate(-90)"><text x="-22.65" y="0" font-size="9.4" fill="#474747" stroke="#474747" stroke-width="0.25" textLength="45.30" lengthAdjust="spacingAndGlyphs">IFN-γ (pg/mL)</text></g>
<line x1="94.00" y1="173.60" x2="105.00" y2="173.60" stroke="#482672" stroke-width="1.6"/>
<circle cx="99.50" cy="173.60" r="3.30" fill="#482672"/>
<text x="108.50" y="176.20" font-size="7.8" fill="#4d3a6e" stroke="#4d3a6e" stroke-width="0.1" font-weight="normal" textLength="34.00" lengthAdjust="spacingAndGlyphs">1 µg/kg IV</text>
<line x1="94.00" y1="187.30" x2="105.00" y2="187.30" stroke="#6cb243" stroke-width="1.6"/>
<rect x="96.50" y="184.30" width="6.00" height="6.00" fill="#6cb243"/>
<text x="108.50" y="189.90" font-size="7.8" fill="#7fb866" stroke="#7fb866" stroke-width="0.1" font-weight="normal" textLength="34.00" lengthAdjust="spacingAndGlyphs">3 µg/kg IV</text>
<line x1="94.00" y1="200.40" x2="105.00" y2="200.40" stroke="#a51436" stroke-width="1.6"/>
<polygon points="99.50,196.76 103.00,202.92 96.00,202.92" fill="#a51436"/>
<text x="108.50" y="203.00" font-size="7.8" fill="#8f2444" stroke="#8f2444" stroke-width="0.1" font-weight="normal" textLength="34.00" lengthAdjust="spacingAndGlyphs">6 µg/kg IV</text>
<line x1="94.00" y1="213.00" x2="105.00" y2="213.00" stroke="#6cabdc" stroke-width="1.6"/>
<circle cx="99.50" cy="213.00" r="3.30" fill="#6cabdc"/>
<text x="108.50" y="215.60" font-size="7.8" fill="#86bde0" stroke="#86bde0" stroke-width="0.1" font-weight="normal" textLength="38.00" lengthAdjust="spacingAndGlyphs">10 µg/kg IV</text>
<line x1="187.50" y1="174.30" x2="198.75" y2="174.30" stroke="#e6a43a" stroke-width="1.6"/>
<g stroke="#e6a43a" stroke-width="1.4"><line x1="190.32" y1="174.30" x2="195.93" y2="174.30"/><line x1="193.12" y1="171.50" x2="193.12" y2="177.10"/><line x1="191.16" y1="172.34" x2="195.09" y2="176.26"/><line x1="191.16" y1="176.26" x2="195.09" y2="172.34"/></g><circle cx="193.12" cy="174.30" r="1.26" fill="#e6a43a"/>
<text x="201.75" y="176.90" font-size="7.8" fill="#e0ad5a" stroke="#e0ad5a" stroke-width="0.1" font-weight="normal" textLength="38.25" lengthAdjust="spacingAndGlyphs">6 µg/kg SQ</text>
<line x1="187.50" y1="185.80" x2="198.75" y2="185.80" stroke="#24406c" stroke-width="1.6"/>
<polygon points="193.12,182.60 196.32,185.80 193.12,189.00 189.93,185.80" fill="#24406c"/>
<text x="201.75" y="188.40" font-size="7.8" fill="#34466a" stroke="#34466a" stroke-width="0.1" font-weight="normal" textLength="42.00" lengthAdjust="spacingAndGlyphs">10 µg/kg SQ</text>
<polyline points="41.10,274.20 143.46,274.20" fill="none" stroke="#bf9a5c" stroke-width="1.8" stroke-linejoin="round"/>
<g stroke="#c99f5a" stroke-width="1.4"><line x1="39.10" y1="274.20" x2="43.10" y2="274.20"/><line x1="41.10" y1="272.20" x2="41.10" y2="276.20"/><line x1="39.70" y1="272.80" x2="42.50" y2="275.60"/><line x1="39.70" y1="275.60" x2="42.50" y2="272.80"/></g><circle cx="41.10" cy="274.20" r="0.90" fill="#c99f5a"/>
<g stroke="#c99f5a" stroke-width="1.4"><line x1="56.16" y1="274.20" x2="60.16" y2="274.20"/><line x1="58.16" y1="272.20" x2="58.16" y2="276.20"/><line x1="56.76" y1="272.80" x2="59.56" y2="275.60"/><line x1="56.76" y1="275.60" x2="59.56" y2="272.80"/></g><circle cx="58.16" cy="274.20" r="0.90" fill="#c99f5a"/>
<g stroke="#c99f5a" stroke-width="1.4"><line x1="73.22" y1="274.20" x2="77.22" y2="274.20"/><line x1="75.22" y1="272.20" x2="75.22" y2="276.20"/><line x1="73.82" y1="272.80" x2="76.62" y2="275.60"/><line x1="73.82" y1="275.60" x2="76.62" y2="272.80"/></g><circle cx="75.22" cy="274.20" r="0.90" fill="#c99f5a"/>
<g stroke="#c99f5a" stroke-width="1.4"><line x1="107.34" y1="274.20" x2="111.34" y2="274.20"/><line x1="109.34" y1="272.20" x2="109.34" y2="276.20"/><line x1="107.94" y1="272.80" x2="110.74" y2="275.60"/><line x1="107.94" y1="275.60" x2="110.74" y2="272.80"/></g><circle cx="109.34" cy="274.20" r="0.90" fill="#c99f5a"/>
<polyline points="154.60,274.00 163.08,253.80 180.05,266.00 247.92,267.80" fill="none" stroke="#e6a43a" stroke-width="1.65" stroke-linejoin="round"/>
<line x1="163.08" y1="244.60" x2="163.08" y2="262.00" stroke="#e6a43a" stroke-width="1.0"/>
<line x1="160.58" y1="244.60" x2="165.58" y2="244.60" stroke="#e6a43a" stroke-width="1.0"/>
<line x1="160.58" y1="262.00" x2="165.58" y2="262.00" stroke="#e6a43a" stroke-width="1.0"/>
<line x1="247.92" y1="263.80" x2="247.92" y2="272.00" stroke="#e6a43a" stroke-width="1.0"/>
<line x1="245.42" y1="263.80" x2="250.42" y2="263.80" stroke="#e6a43a" stroke-width="1.0"/>
<line x1="245.42" y1="272.00" x2="250.42" y2="272.00" stroke="#e6a43a" stroke-width="1.0"/>
<g stroke="#e6a43a" stroke-width="1.4"><line x1="151.80" y1="274.00" x2="157.40" y2="274.00"/><line x1="154.60" y1="271.20" x2="154.60" y2="276.80"/><line x1="152.64" y1="272.04" x2="156.56" y2="275.96"/><line x1="152.64" y1="275.96" x2="156.56" y2="272.04"/></g><circle cx="154.60" cy="274.00" r="1.26" fill="#e6a43a"/>
<g stroke="#e6a43a" stroke-width="1.4"><line x1="160.28" y1="253.80" x2="165.88" y2="253.80"/><line x1="163.08" y1="251.00" x2="163.08" y2="256.60"/><line x1="161.12" y1="251.84" x2="165.04" y2="255.76"/><line x1="161.12" y1="255.76" x2="165.04" y2="251.84"/></g><circle cx="163.08" cy="253.80" r="1.26" fill="#e6a43a"/>
<g stroke="#e6a43a" stroke-width="1.4"><line x1="177.25" y1="266.00" x2="182.85" y2="266.00"/><line x1="180.05" y1="263.20" x2="180.05" y2="268.80"/><line x1="178.09" y1="264.04" x2="182.01" y2="267.96"/><line x1="178.09" y1="267.96" x2="182.01" y2="264.04"/></g><circle cx="180.05" cy="266.00" r="1.26" fill="#e6a43a"/>
<g stroke="#e6a43a" stroke-width="1.4"><line x1="245.12" y1="267.80" x2="250.72" y2="267.80"/><line x1="247.92" y1="265.00" x2="247.92" y2="270.60"/><line x1="245.96" y1="265.84" x2="249.88" y2="269.76"/><line x1="245.96" y1="269.76" x2="249.88" y2="265.84"/></g><circle cx="247.92" cy="267.80" r="1.26" fill="#e6a43a"/>
<polyline points="41.10,272.50 58.16,261.50 75.22,250.40 109.34,264.50 143.46,268.00" fill="none" stroke="#6cabdc" stroke-width="1.65" stroke-linejoin="round"/>
<line x1="75.22" y1="240.40" x2="75.22" y2="259.00" stroke="#6cabdc" stroke-width="1.0"/>
<line x1="72.72" y1="240.40" x2="77.72" y2="240.40" stroke="#6cabdc" stroke-width="1.0"/>
<line x1="72.72" y1="259.00" x2="77.72" y2="259.00" stroke="#6cabdc" stroke-width="1.0"/>
<circle cx="41.10" cy="272.50" r="3.00" fill="#6cabdc"/>
<circle cx="58.16" cy="261.50" r="3.00" fill="#6cabdc"/>
<circle cx="75.22" cy="250.40" r="3.00" fill="#6cabdc"/>
<circle cx="109.34" cy="264.50" r="3.00" fill="#6cabdc"/>
<polyline points="154.60,273.30 247.92,273.30" fill="none" stroke="#482672" stroke-width="1.8" stroke-linejoin="round"/>
<polyline points="154.60,275.00 247.92,275.00" fill="none" stroke="#a51436" stroke-width="1.4" stroke-linejoin="round"/>
<polyline points="41.10,273.00 58.16,262.00 75.22,270.00 92.28,266.50 109.34,274.00 143.46,273.00" fill="none" stroke="#482672" stroke-width="1.65" stroke-linejoin="round"/>
<line x1="58.16" y1="258.00" x2="58.16" y2="266.00" stroke="#482672" stroke-width="1.0"/>
<line x1="55.66" y1="258.00" x2="60.66" y2="258.00" stroke="#482672" stroke-width="1.0"/>
<line x1="55.66" y1="266.00" x2="60.66" y2="266.00" stroke="#482672" stroke-width="1.0"/>
<line x1="92.28" y1="263.00" x2="92.28" y2="270.00" stroke="#482672" stroke-width="1.0"/>
<line x1="89.78" y1="263.00" x2="94.78" y2="263.00" stroke="#482672" stroke-width="1.0"/>
<line x1="89.78" y1="270.00" x2="94.78" y2="270.00" stroke="#482672" stroke-width="1.0"/>
<circle cx="41.10" cy="273.00" r="3.00" fill="#482672"/>
<circle cx="58.16" cy="262.00" r="3.00" fill="#482672"/>
<circle cx="75.22" cy="270.00" r="3.00" fill="#482672"/>
<circle cx="92.28" cy="266.50" r="3.00" fill="#482672"/>
<circle cx="109.34" cy="274.00" r="3.00" fill="#482672"/>
<polyline points="41.10,274.00 58.16,267.30 75.22,255.00 109.34,265.00 143.46,269.50" fill="none" stroke="#6cb243" stroke-width="1.65" stroke-linejoin="round"/>
<polyline points="154.60,273.80 163.08,273.80 180.05,273.80 247.92,273.80" fill="none" stroke="#6cb243" stroke-width="1.65" stroke-linejoin="round"/>
<line x1="58.16" y1="263.00" x2="58.16" y2="271.00" stroke="#6cb243" stroke-width="1.0"/>
<line x1="55.66" y1="263.00" x2="60.66" y2="263.00" stroke="#6cb243" stroke-width="1.0"/>
<line x1="55.66" y1="271.00" x2="60.66" y2="271.00" stroke="#6cb243" stroke-width="1.0"/>
<line x1="75.22" y1="251.00" x2="75.22" y2="260.00" stroke="#6cb243" stroke-width="1.0"/>
<line x1="72.72" y1="251.00" x2="77.72" y2="251.00" stroke="#6cb243" stroke-width="1.0"/>
<line x1="72.72" y1="260.00" x2="77.72" y2="260.00" stroke="#6cb243" stroke-width="1.0"/>
<rect x="38.20" y="271.10" width="5.80" height="5.80" fill="#6cb243"/>
<rect x="55.26" y="264.40" width="5.80" height="5.80" fill="#6cb243"/>
<rect x="72.32" y="252.10" width="5.80" height="5.80" fill="#6cb243"/>
<rect x="106.44" y="262.10" width="5.80" height="5.80" fill="#6cb243"/>
<rect x="151.70" y="270.90" width="5.80" height="5.80" fill="#6cb243"/>
<rect x="160.18" y="270.90" width="5.80" height="5.80" fill="#6cb243"/>
<rect x="177.15" y="270.90" width="5.80" height="5.80" fill="#6cb243"/>
<rect x="245.02" y="270.90" width="5.80" height="5.80" fill="#6cb243"/>
<polyline points="41.10,272.50 58.16,249.60 75.22,205.00 109.34,258.00 143.46,270.00" fill="none" stroke="#a51436" stroke-width="1.65" stroke-linejoin="round"/>
<line x1="58.16" y1="235.80" x2="58.16" y2="262.00" stroke="#a51436" stroke-width="1.0"/>
<line x1="55.66" y1="235.80" x2="60.66" y2="235.80" stroke="#a51436" stroke-width="1.0"/>
<line x1="55.66" y1="262.00" x2="60.66" y2="262.00" stroke="#a51436" stroke-width="1.0"/>
<line x1="75.22" y1="178.50" x2="75.22" y2="232.40" stroke="#a51436" stroke-width="1.0"/>
<line x1="72.72" y1="178.50" x2="77.72" y2="178.50" stroke="#a51436" stroke-width="1.0"/>
<line x1="72.72" y1="232.40" x2="77.72" y2="232.40" stroke="#a51436" stroke-width="1.0"/>
<line x1="109.34" y1="252.70" x2="109.34" y2="264.00" stroke="#a51436" stroke-width="1.0"/>
<line x1="106.84" y1="252.70" x2="111.84" y2="252.70" stroke="#a51436" stroke-width="1.0"/>
<line x1="106.84" y1="264.00" x2="111.84" y2="264.00" stroke="#a51436" stroke-width="1.0"/>
<polygon points="41.10,268.86 44.60,275.02 37.60,275.02" fill="#a51436"/>
<polygon points="58.16,245.96 61.66,252.12 54.66,252.12" fill="#a51436"/>
<polygon points="75.22,201.36 78.72,207.52 71.72,207.52" fill="#a51436"/>
<polygon points="109.34,254.36 112.84,260.52 105.84,260.52" fill="#a51436"/>
<polyline points="41.10,272.00 45.37,272.50 58.16,271.00 75.22,270.40 109.34,270.40 143.46,271.50" fill="none" stroke="#24406c" stroke-width="1.65" stroke-linejoin="round"/>
<polyline points="154.60,271.50 163.08,259.00 180.05,226.00 247.92,271.50" fill="none" stroke="#24406c" stroke-width="1.65" stroke-linejoin="round"/>
<line x1="163.08" y1="249.00" x2="163.08" y2="268.50" stroke="#24406c" stroke-width="1.0"/>
<line x1="160.58" y1="249.00" x2="165.58" y2="249.00" stroke="#24406c" stroke-width="1.0"/>
<line x1="160.58" y1="268.50" x2="165.58" y2="268.50" stroke="#24406c" stroke-width="1.0"/>
<line x1="180.05" y1="203.00" x2="180.05" y2="248.50" stroke="#24406c" stroke-width="1.0"/>
<line x1="177.55" y1="203.00" x2="182.55" y2="203.00" stroke="#24406c" stroke-width="1.0"/>
<line x1="177.55" y1="248.50" x2="182.55" y2="248.50" stroke="#24406c" stroke-width="1.0"/>
<polygon points="41.10,268.90 44.20,272.00 41.10,275.10 38.00,272.00" fill="#24406c"/>
<polygon points="45.37,269.40 48.47,272.50 45.37,275.60 42.27,272.50" fill="#24406c"/>
<polygon points="58.16,267.90 61.26,271.00 58.16,274.10 55.06,271.00" fill="#24406c"/>
<polygon points="75.22,267.30 78.32,270.40 75.22,273.50 72.12,270.40" fill="#24406c"/>
<polygon points="109.34,267.30 112.44,270.40 109.34,273.50 106.24,270.40" fill="#24406c"/>
<polygon points="154.60,268.40 157.70,271.50 154.60,274.60 151.50,271.50" fill="#24406c"/>
<polygon points="163.08,255.90 166.18,259.00 163.08,262.10 159.98,259.00" fill="#24406c"/>
<polygon points="180.05,222.90 183.15,226.00 180.05,229.10 176.95,226.00" fill="#24406c"/>
<polygon points="247.92,268.40 251.02,271.50 247.92,274.60 244.82,271.50" fill="#24406c"/>
<text x="257.00" y="161.70" font-size="10.47" font-weight="bold" fill="#000" stroke="#000" stroke-width="0.55" textLength="7.30" lengthAdjust="spacingAndGlyphs">D</text>
<line x1="292.20" y1="169.00" x2="292.20" y2="274.90" stroke="#000" stroke-width="1.6"/>
<line x1="288.70" y1="273.75" x2="292.20" y2="273.75" stroke="#000" stroke-width="1.1"/>
<text x="287.20" y="276.35" font-size="8.3" fill="#474747" stroke="#474747" stroke-width="0.25" text-anchor="end">0</text>
<line x1="288.70" y1="253.50" x2="292.20" y2="253.50" stroke="#000" stroke-width="1.1"/>
<text x="287.20" y="256.10" font-size="8.3" fill="#474747" stroke="#474747" stroke-width="0.25" text-anchor="end">250</text>
<line x1="288.70" y1="233.10" x2="292.20" y2="233.10" stroke="#000" stroke-width="1.1"/>
<text x="287.20" y="235.70" font-size="8.3" fill="#474747" stroke="#474747" stroke-width="0.25" text-anchor="end">500</text>
<line x1="288.70" y1="212.40" x2="292.20" y2="212.40" stroke="#000" stroke-width="1.1"/>
<text x="287.20" y="215.00" font-size="8.3" fill="#474747" stroke="#474747" stroke-width="0.25" text-anchor="end">750</text>
<line x1="288.70" y1="192.20" x2="292.20" y2="192.20" stroke="#000" stroke-width="1.1"/>
<text x="287.20" y="194.80" font-size="8.3" fill="#474747" stroke="#474747" stroke-width="0.25" text-anchor="end">1000</text>
<line x1="288.70" y1="171.50" x2="292.20" y2="171.50" stroke="#000" stroke-width="1.1"/>
<text x="287.20" y="174.10" font-size="8.3" fill="#474747" stroke="#474747" stroke-width="0.25" text-anchor="end">1250</text>
<line x1="292.20" y1="274.10" x2="393.80" y2="274.10" stroke="#000" stroke-width="1.6"/>
<line x1="393.80" y1="271.60" x2="393.80" y2="276.60" stroke="#000" stroke-width="1.2"/>
<line x1="292.70" y1="274.10" x2="292.70" y2="277.10" stroke="#000" stroke-width="1.0"/>
<text x="292.70" y="288.00" font-size="8.3" fill="#474747" stroke="#474747" stroke-width="0.25" text-anchor="middle">0</text>
<line x1="309.56" y1="274.10" x2="309.56" y2="277.10" stroke="#000" stroke-width="1.0"/>
<text x="309.56" y="288.00" font-size="8.3" fill="#474747" stroke="#474747" stroke-width="0.25" text-anchor="middle">2</text>
<line x1="326.42" y1="274.10" x2="326.42" y2="277.10" stroke="#000" stroke-width="1.0"/>
<text x="326.42" y="288.00" font-size="8.3" fill="#474747" stroke="#474747" stroke-width="0.25" text-anchor="middle">4</text>
<line x1="343.28" y1="274.10" x2="343.28" y2="277.10" stroke="#000" stroke-width="1.0"/>
<text x="343.28" y="288.00" font-size="8.3" fill="#474747" stroke="#474747" stroke-width="0.25" text-anchor="middle">6</text>
<line x1="360.14" y1="274.10" x2="360.14" y2="277.10" stroke="#000" stroke-width="1.0"/>
<text x="360.14" y="288.00" font-size="8.3" fill="#474747" stroke="#474747" stroke-width="0.25" text-anchor="middle">8</text>
<line x1="377.00" y1="274.10" x2="377.00" y2="277.10" stroke="#000" stroke-width="1.0"/>
<text x="377.00" y="288.00" font-size="8.3" fill="#474747" stroke="#474747" stroke-width="0.25" text-anchor="middle">10</text>
<line x1="393.86" y1="274.10" x2="393.86" y2="277.10" stroke="#000" stroke-width="1.0"/>
<text x="393.86" y="288.00" font-size="8.3" fill="#474747" stroke="#474747" stroke-width="0.25" text-anchor="middle">12</text>
<line x1="301.13" y1="274.10" x2="301.13" y2="275.70" stroke="#000" stroke-width="0.8"/>
<line x1="317.99" y1="274.10" x2="317.99" y2="275.70" stroke="#000" stroke-width="0.8"/>
<line x1="334.85" y1="274.10" x2="334.85" y2="275.70" stroke="#000" stroke-width="0.8"/>
<line x1="351.71" y1="274.10" x2="351.71" y2="275.70" stroke="#000" stroke-width="0.8"/>
<line x1="368.57" y1="274.10" x2="368.57" y2="275.70" stroke="#000" stroke-width="0.8"/>
<line x1="385.43" y1="274.10" x2="385.43" y2="275.70" stroke="#000" stroke-width="0.8"/>
<line x1="399.60" y1="271.60" x2="399.60" y2="276.60" stroke="#000" stroke-width="1.2"/>
<line x1="399.60" y1="274.10" x2="500.00" y2="274.10" stroke="#000" stroke-width="1.6"/>
<line x1="404.20" y1="274.10" x2="404.20" y2="277.10" stroke="#000" stroke-width="1.0"/>
<text x="404.20" y="288.00" font-size="8.3" fill="#474747" stroke="#474747" stroke-width="0.25" text-anchor="middle">24</text>
<line x1="421.05" y1="274.10" x2="421.05" y2="277.10" stroke="#000" stroke-width="1.0"/>
<text x="421.05" y="288.00" font-size="8.3" fill="#474747" stroke="#474747" stroke-width="0.25" text-anchor="middle">72</text>
<line x1="437.90" y1="274.10" x2="437.90" y2="277.10" stroke="#000" stroke-width="1.0"/>
<text x="437.90" y="288.00" font-size="8.3" fill="#474747" stroke="#474747" stroke-width="0.25" text-anchor="middle">120</text>
<line x1="454.74" y1="274.10" x2="454.74" y2="277.10" stroke="#000" stroke-width="1.0"/>
<text x="454.74" y="288.00" font-size="8.3" fill="#474747" stroke="#474747" stroke-width="0.25" text-anchor="middle">168</text>
<line x1="471.59" y1="274.10" x2="471.59" y2="277.10" stroke="#000" stroke-width="1.0"/>
<text x="471.59" y="288.00" font-size="8.3" fill="#474747" stroke="#474747" stroke-width="0.25" text-anchor="middle">216</text>
<line x1="488.44" y1="274.10" x2="488.44" y2="277.10" stroke="#000" stroke-width="1.0"/>
<text x="488.44" y="288.00" font-size="8.3" fill="#474747" stroke="#474747" stroke-width="0.25" text-anchor="middle">264</text>
<text x="352.60" y="300.80" font-size="10.0" fill="#474747" stroke="#474747" stroke-width="0.25" font-weight="normal" textLength="89.40" lengthAdjust="spacingAndGlyphs">Time post-injection (hours)</text>
<g transform="translate(262.80,221.25) rotate(-90)"><text x="-20.05" y="0" font-size="9.2" fill="#474747" stroke="#474747" stroke-width="0.25" textLength="40.10" lengthAdjust="spacingAndGlyphs">IL-6 (pg/mL)</text></g>
<line x1="356.25" y1="172.60" x2="367.50" y2="172.60" stroke="#482672" stroke-width="1.6"/>
<circle cx="361.88" cy="172.60" r="3.30" fill="#482672"/>
<text x="370.50" y="175.20" font-size="7.8" fill="#4d3a6e" stroke="#4d3a6e" stroke-width="0.1" font-weight="normal" textLength="35.75" lengthAdjust="spacingAndGlyphs">1 µg/kg IV</text>
<line x1="356.25" y1="185.50" x2="367.50" y2="185.50" stroke="#6cb243" stroke-width="1.6"/>
<rect x="358.88" y="182.50" width="6.00" height="6.00" fill="#6cb243"/>
<text x="370.50" y="188.10" font-size="7.8" fill="#7fb866" stroke="#7fb866" stroke-width="0.1" font-weight="normal" textLength="35.75" lengthAdjust="spacingAndGlyphs">3 µg/kg IV</text>
<line x1="356.25" y1="199.10" x2="367.50" y2="199.10" stroke="#a51436" stroke-width="1.6"/>
<polygon points="361.88,195.46 365.38,201.62 358.38,201.62" fill="#a51436"/>
<text x="370.50" y="201.70" font-size="7.8" fill="#8f2444" stroke="#8f2444" stroke-width="0.1" font-weight="normal" textLength="35.75" lengthAdjust="spacingAndGlyphs">6 µg/kg IV</text>
<line x1="356.25" y1="211.60" x2="367.50" y2="211.60" stroke="#6cabdc" stroke-width="1.6"/>
<circle cx="361.88" cy="211.60" r="3.30" fill="#6cabdc"/>
<text x="370.50" y="214.20" font-size="7.8" fill="#86bde0" stroke="#86bde0" stroke-width="0.1" font-weight="normal" textLength="39.50" lengthAdjust="spacingAndGlyphs">10 µg/kg IV</text>
<line x1="426.25" y1="173.10" x2="437.50" y2="173.10" stroke="#e6a43a" stroke-width="1.6"/>
<g stroke="#e6a43a" stroke-width="1.4"><line x1="429.07" y1="173.10" x2="434.68" y2="173.10"/><line x1="431.88" y1="170.30" x2="431.88" y2="175.90"/><line x1="429.92" y1="171.14" x2="433.83" y2="175.06"/><line x1="429.92" y1="175.06" x2="433.83" y2="171.14"/></g><circle cx="431.88" cy="173.10" r="1.26" fill="#e6a43a"/>
<text x="440.00" y="175.70" font-size="7.8" fill="#e0ad5a" stroke="#e0ad5a" stroke-width="0.1" font-weight="normal" textLength="38.75" lengthAdjust="spacingAndGlyphs">6 µg/kg SQ</text>
<line x1="426.25" y1="184.40" x2="437.50" y2="184.40" stroke="#24406c" stroke-width="1.6"/>
<polygon points="431.88,181.20 435.07,184.40 431.88,187.60 428.68,184.40" fill="#24406c"/>
<text x="440.00" y="187.00" font-size="7.8" fill="#34466a" stroke="#34466a" stroke-width="0.1" font-weight="normal" textLength="43.00" lengthAdjust="spacingAndGlyphs">10 µg/kg SQ</text>
<polyline points="292.70,271.00 309.56,271.00 326.42,270.00 360.14,267.50 393.86,270.00" fill="none" stroke="#e6a43a" stroke-width="1.65" stroke-linejoin="round"/>
<polyline points="404.20,272.00 412.62,272.00 429.47,273.00 496.86,273.00" fill="none" stroke="#e6a43a" stroke-width="1.65" stroke-linejoin="round"/>
<line x1="292.70" y1="266.00" x2="292.70" y2="274.00" stroke="#e6a43a" stroke-width="1.0"/>
<line x1="290.20" y1="266.00" x2="295.20" y2="266.00" stroke="#e6a43a" stroke-width="1.0"/>
<line x1="290.20" y1="274.00" x2="295.20" y2="274.00" stroke="#e6a43a" stroke-width="1.0"/>
<line x1="360.14" y1="262.00" x2="360.14" y2="272.00" stroke="#e6a43a" stroke-width="1.0"/>
<line x1="357.64" y1="262.00" x2="362.64" y2="262.00" stroke="#e6a43a" stroke-width="1.0"/>
<line x1="357.64" y1="272.00" x2="362.64" y2="272.00" stroke="#e6a43a" stroke-width="1.0"/>
<g stroke="#e6a43a" stroke-width="1.4"><line x1="289.90" y1="271.00" x2="295.50" y2="271.00"/><line x1="292.70" y1="268.20" x2="292.70" y2="273.80"/><line x1="290.74" y1="269.04" x2="294.66" y2="272.96"/><line x1="290.74" y1="272.96" x2="294.66" y2="269.04"/></g><circle cx="292.70" cy="271.00" r="1.26" fill="#e6a43a"/>
<g stroke="#e6a43a" stroke-width="1.4"><line x1="306.76" y1="271.00" x2="312.36" y2="271.00"/><line x1="309.56" y1="268.20" x2="309.56" y2="273.80"/><line x1="307.60" y1="269.04" x2="311.52" y2="272.96"/><line x1="307.60" y1="272.96" x2="311.52" y2="269.04"/></g><circle cx="309.56" cy="271.00" r="1.26" fill="#e6a43a"/>
<g stroke="#e6a43a" stroke-width="1.4"><line x1="323.62" y1="270.00" x2="329.22" y2="270.00"/><line x1="326.42" y1="267.20" x2="326.42" y2="272.80"/><line x1="324.46" y1="268.04" x2="328.38" y2="271.96"/><line x1="324.46" y1="271.96" x2="328.38" y2="268.04"/></g><circle cx="326.42" cy="270.00" r="1.26" fill="#e6a43a"/>
<g stroke="#e6a43a" stroke-width="1.4"><line x1="357.34" y1="267.50" x2="362.94" y2="267.50"/><line x1="360.14" y1="264.70" x2="360.14" y2="270.30"/><line x1="358.18" y1="265.54" x2="362.10" y2="269.46"/><line x1="358.18" y1="269.46" x2="362.10" y2="265.54"/></g><circle cx="360.14" cy="267.50" r="1.26" fill="#e6a43a"/>
<g stroke="#e6a43a" stroke-width="1.4"><line x1="401.40" y1="272.00" x2="407.00" y2="272.00"/><line x1="404.20" y1="269.20" x2="404.20" y2="274.80"/><line x1="402.24" y1="270.04" x2="406.16" y2="273.96"/><line x1="402.24" y1="273.96" x2="406.16" y2="270.04"/></g><circle cx="404.20" cy="272.00" r="1.26" fill="#e6a43a"/>
<g stroke="#e6a43a" stroke-width="1.4"><line x1="409.82" y1="272.00" x2="415.42" y2="272.00"/><line x1="412.62" y1="269.20" x2="412.62" y2="274.80"/><line x1="410.66" y1="270.04" x2="414.58" y2="273.96"/><line x1="410.66" y1="273.96" x2="414.58" y2="270.04"/></g><circle cx="412.62" cy="272.00" r="1.26" fill="#e6a43a"/>
<g stroke="#e6a43a" stroke-width="1.4"><line x1="426.67" y1="273.00" x2="432.27" y2="273.00"/><line x1="429.47" y1="270.20" x2="429.47" y2="275.80"/><line x1="427.51" y1="271.04" x2="431.43" y2="274.96"/><line x1="427.51" y1="274.96" x2="431.43" y2="271.04"/></g><circle cx="429.47" cy="273.00" r="1.26" fill="#e6a43a"/>
<g stroke="#e6a43a" stroke-width="1.4"><line x1="494.06" y1="273.00" x2="499.66" y2="273.00"/><line x1="496.86" y1="270.20" x2="496.86" y2="275.80"/><line x1="494.90" y1="271.04" x2="498.82" y2="274.96"/><line x1="494.90" y1="274.96" x2="498.82" y2="271.04"/></g><circle cx="496.86" cy="273.00" r="1.26" fill="#e6a43a"/>
<polyline points="292.70,273.00 309.56,271.00 326.42,264.90 343.28,271.90 360.14,272.40 393.86,273.00" fill="none" stroke="#482672" stroke-width="1.65" stroke-linejoin="round"/>
<polyline points="404.20,273.00 412.62,273.00 429.47,273.00 496.86,273.00" fill="none" stroke="#482672" stroke-width="1.65" stroke-linejoin="round"/>
<line x1="326.42" y1="260.00" x2="326.42" y2="270.00" stroke="#482672" stroke-width="1.0"/>
<line x1="323.92" y1="260.00" x2="328.92" y2="260.00" stroke="#482672" stroke-width="1.0"/>
<line x1="323.92" y1="270.00" x2="328.92" y2="270.00" stroke="#482672" stroke-width="1.0"/>
<circle cx="292.70" cy="273.00" r="3.00" fill="#482672"/>
<circle cx="309.56" cy="271.00" r="3.00" fill="#482672"/>
<circle cx="326.42" cy="264.90" r="3.00" fill="#482672"/>
<circle cx="343.28" cy="271.90" r="3.00" fill="#482672"/>
<circle cx="360.14" cy="272.40" r="3.00" fill="#482672"/>
<circle cx="404.20" cy="273.00" r="3.00" fill="#482672"/>
<circle cx="412.62" cy="273.00" r="3.00" fill="#482672"/>
<circle cx="429.47" cy="273.00" r="3.00" fill="#482672"/>
<circle cx="496.86" cy="273.00" r="3.00" fill="#482672"/>
<polyline points="292.70,273.00 309.56,271.00 326.42,253.20 360.14,261.00 393.86,268.60" fill="none" stroke="#6cb243" stroke-width="1.65" stroke-linejoin="round"/>
<polyline points="404.20,273.00 412.62,273.00 429.47,268.30 496.86,272.50" fill="none" stroke="#6cb243" stroke-width="1.65" stroke-linejoin="round"/>
<line x1="326.42" y1="245.00" x2="326.42" y2="261.00" stroke="#6cb243" stroke-width="1.0"/>
<line x1="323.92" y1="245.00" x2="328.92" y2="245.00" stroke="#6cb243" stroke-width="1.0"/>
<line x1="323.92" y1="261.00" x2="328.92" y2="261.00" stroke="#6cb243" stroke-width="1.0"/>
<line x1="360.14" y1="249.50" x2="360.14" y2="272.00" stroke="#6cb243" stroke-width="1.0"/>
<line x1="357.64" y1="249.50" x2="362.64" y2="249.50" stroke="#6cb243" stroke-width="1.0"/>
<line x1="357.64" y1="272.00" x2="362.64" y2="272.00" stroke="#6cb243" stroke-width="1.0"/>
<line x1="429.47" y1="266.00" x2="429.47" y2="271.00" stroke="#6cb243" stroke-width="1.0"/>
<line x1="426.97" y1="266.00" x2="431.97" y2="266.00" stroke="#6cb243" stroke-width="1.0"/>
<line x1="426.97" y1="271.00" x2="431.97" y2="271.00" stroke="#6cb243" stroke-width="1.0"/>
<rect x="290.10" y="270.40" width="5.20" height="5.20" fill="#6cb243"/>
<rect x="306.96" y="268.40" width="5.20" height="5.20" fill="#6cb243"/>
<rect x="323.82" y="250.60" width="5.20" height="5.20" fill="#6cb243"/>
<rect x="357.54" y="258.40" width="5.20" height="5.20" fill="#6cb243"/>
<rect x="401.60" y="270.40" width="5.20" height="5.20" fill="#6cb243"/>
<rect x="410.02" y="270.40" width="5.20" height="5.20" fill="#6cb243"/>
<rect x="426.87" y="265.70" width="5.20" height="5.20" fill="#6cb243"/>
<rect x="494.26" y="269.90" width="5.20" height="5.20" fill="#6cb243"/>
<polyline points="292.70,272.50 309.56,270.00 326.42,227.50 360.14,262.00 393.86,269.00" fill="none" stroke="#6cabdc" stroke-width="1.65" stroke-linejoin="round"/>
<line x1="326.42" y1="214.80" x2="326.42" y2="240.00" stroke="#6cabdc" stroke-width="1.0"/>
<line x1="323.92" y1="214.80" x2="328.92" y2="214.80" stroke="#6cabdc" stroke-width="1.0"/>
<line x1="323.92" y1="240.00" x2="328.92" y2="240.00" stroke="#6cabdc" stroke-width="1.0"/>
<circle cx="292.70" cy="272.50" r="3.00" fill="#6cabdc"/>
<circle cx="309.56" cy="270.00" r="3.00" fill="#6cabdc"/>
<circle cx="326.42" cy="227.50" r="3.00" fill="#6cabdc"/>
<circle cx="360.14" cy="262.00" r="3.00" fill="#6cabdc"/>
<polyline points="292.70,272.00 309.56,265.30 326.42,199.40 360.14,261.00 393.86,268.00" fill="none" stroke="#a51436" stroke-width="1.65" stroke-linejoin="round"/>
<polyline points="404.20,274.30 412.62,274.30 429.47,274.30 496.86,274.30" fill="none" stroke="#a51436" stroke-width="1.65" stroke-linejoin="round"/>
<line x1="309.56" y1="260.50" x2="309.56" y2="270.00" stroke="#a51436" stroke-width="1.0"/>
<line x1="307.06" y1="260.50" x2="312.06" y2="260.50" stroke="#a51436" stroke-width="1.0"/>
<line x1="307.06" y1="270.00" x2="312.06" y2="270.00" stroke="#a51436" stroke-width="1.0"/>
<line x1="326.42" y1="176.40" x2="326.42" y2="220.30" stroke="#a51436" stroke-width="1.0"/>
<line x1="323.92" y1="176.40" x2="328.92" y2="176.40" stroke="#a51436" stroke-width="1.0"/>
<line x1="323.92" y1="220.30" x2="328.92" y2="220.30" stroke="#a51436" stroke-width="1.0"/>
<polygon points="292.70,268.36 296.20,274.52 289.20,274.52" fill="#a51436"/>
<polygon points="309.56,261.66 313.06,267.82 306.06,267.82" fill="#a51436"/>
<polygon points="326.42,195.76 329.92,201.92 322.92,201.92" fill="#a51436"/>
<polygon points="360.14,257.36 363.64,263.52 356.64,263.52" fill="#a51436"/>
<polygon points="404.20,270.66 407.70,276.82 400.70,276.82" fill="#a51436"/>
<polygon points="412.62,270.66 416.12,276.82 409.12,276.82" fill="#a51436"/>
<polygon points="429.47,270.66 432.97,276.82 425.97,276.82" fill="#a51436"/>
<polygon points="496.86,270.66 500.36,276.82 493.36,276.82" fill="#a51436"/>
<polyline points="292.70,272.00 309.56,272.00 326.42,270.40 360.14,264.90 393.86,268.00" fill="none" stroke="#24406c" stroke-width="1.65" stroke-linejoin="round"/>
<polyline points="404.20,272.00 412.62,273.00 429.47,272.50 496.86,272.00" fill="none" stroke="#24406c" stroke-width="1.65" stroke-linejoin="round"/>
<polygon points="292.70,268.90 295.80,272.00 292.70,275.10 289.60,272.00" fill="#24406c"/>
<polygon points="309.56,268.90 312.66,272.00 309.56,275.10 306.46,272.00" fill="#24406c"/>
<polygon points="326.42,267.30 329.52,270.40 326.42,273.50 323.32,270.40" fill="#24406c"/>
<polygon points="360.14,261.80 363.24,264.90 360.14,268.00 357.04,264.90" fill="#24406c"/>
<polygon points="404.20,268.90 407.30,272.00 404.20,275.10 401.10,272.00" fill="#24406c"/>
<polygon points="412.62,269.90 415.72,273.00 412.62,276.10 409.52,273.00" fill="#24406c"/>
<polygon points="429.47,269.40 432.57,272.50 429.47,275.60 426.37,272.50" fill="#24406c"/>
<polygon points="496.86,268.90 499.96,272.00 496.86,275.10 493.76,272.00" fill="#24406c"/>
<text x="9.30" y="315.50" font-size="10.61" font-weight="bold" fill="#000" stroke="#000" stroke-width="0.55" textLength="6.10" lengthAdjust="spacingAndGlyphs">E</text>
<line x1="41.10" y1="320.80" x2="41.10" y2="420.30" stroke="#000" stroke-width="1.5"/>
<line x1="37.60" y1="323.20" x2="41.10" y2="323.20" stroke="#000" stroke-width="1.1"/>
<text x="35.60" y="326.30" font-size="8.6" fill="#474747" stroke="#474747" stroke-width="0.25" text-anchor="end">150</text>
<line x1="37.60" y1="347.30" x2="41.10" y2="347.30" stroke="#000" stroke-width="1.1"/>
<text x="35.60" y="350.40" font-size="8.6" fill="#474747" stroke="#474747" stroke-width="0.25" text-anchor="end">125</text>
<line x1="37.60" y1="371.40" x2="41.10" y2="371.40" stroke="#000" stroke-width="1.1"/>
<text x="35.60" y="374.50" font-size="8.6" fill="#474747" stroke="#474747" stroke-width="0.25" text-anchor="end">100</text>
<line x1="37.60" y1="395.50" x2="41.10" y2="395.50" stroke="#000" stroke-width="1.1"/>
<text x="35.60" y="398.60" font-size="8.6" fill="#474747" stroke="#474747" stroke-width="0.25" text-anchor="end">75</text>
<line x1="37.60" y1="419.50" x2="41.10" y2="419.50" stroke="#000" stroke-width="1.1"/>
<text x="35.60" y="422.60" font-size="8.6" fill="#474747" stroke="#474747" stroke-width="0.25" text-anchor="end">50</text>
<line x1="41.10" y1="419.50" x2="172.00" y2="419.50" stroke="#000" stroke-width="1.5"/>
<line x1="46.20" y1="419.50" x2="46.20" y2="422.50" stroke="#000" stroke-width="1.0"/>
<text x="46.20" y="433.40" font-size="8.4" fill="#474747" stroke="#474747" stroke-width="0.25" text-anchor="middle">0</text>
<line x1="56.46" y1="419.50" x2="56.46" y2="422.50" stroke="#000" stroke-width="1.0"/>
<text x="56.46" y="433.40" font-size="8.4" fill="#474747" stroke="#474747" stroke-width="0.25" text-anchor="middle">.25</text>
<line x1="66.72" y1="419.50" x2="66.72" y2="422.50" stroke="#000" stroke-width="1.0"/>
<text x="66.72" y="433.40" font-size="8.4" fill="#474747" stroke="#474747" stroke-width="0.25" text-anchor="middle">.5</text>
<line x1="76.98" y1="419.50" x2="76.98" y2="422.50" stroke="#000" stroke-width="1.0"/>
<text x="76.98" y="433.40" font-size="8.4" fill="#474747" stroke="#474747" stroke-width="0.25" text-anchor="middle">1</text>
<line x1="87.24" y1="419.50" x2="87.24" y2="422.50" stroke="#000" stroke-width="1.0"/>
<text x="87.24" y="433.40" font-size="8.4" fill="#474747" stroke="#474747" stroke-width="0.25" text-anchor="middle">2</text>
<line x1="97.50" y1="419.50" x2="97.50" y2="422.50" stroke="#000" stroke-width="1.0"/>
<text x="97.50" y="433.40" font-size="8.4" fill="#474747" stroke="#474747" stroke-width="0.25" text-anchor="middle">3</text>
<line x1="107.76" y1="419.50" x2="107.76" y2="422.50" stroke="#000" stroke-width="1.0"/>
<text x="107.76" y="433.40" font-size="8.4" fill="#474747" stroke="#474747" stroke-width="0.25" text-anchor="middle">4</text>
<line x1="118.02" y1="419.50" x2="118.02" y2="422.50" stroke="#000" stroke-width="1.0"/>
<text x="118.02" y="433.40" font-size="8.4" fill="#474747" stroke="#474747" stroke-width="0.25" text-anchor="middle">5</text>
<line x1="128.28" y1="419.50" x2="128.28" y2="422.50" stroke="#000" stroke-width="1.0"/>
<text x="128.28" y="433.40" font-size="8.4" fill="#474747" stroke="#474747" stroke-width="0.25" text-anchor="middle">6</text>
<line x1="138.54" y1="419.50" x2="138.54" y2="422.50" stroke="#000" stroke-width="1.0"/>
<text x="138.54" y="433.40" font-size="8.4" fill="#474747" stroke="#474747" stroke-width="0.25" text-anchor="middle">24</text>
<line x1="148.80" y1="419.50" x2="148.80" y2="422.50" stroke="#000" stroke-width="1.0"/>
<text x="148.80" y="433.40" font-size="8.4" fill="#474747" stroke="#474747" stroke-width="0.25" text-anchor="middle">48</text>
<line x1="159.06" y1="419.50" x2="159.06" y2="422.50" stroke="#000" stroke-width="1.0"/>
<text x="159.06" y="433.40" font-size="8.4" fill="#474747" stroke="#474747" stroke-width="0.25" text-anchor="middle">72</text>
<line x1="169.32" y1="419.50" x2="169.32" y2="422.50" stroke="#000" stroke-width="1.0"/>
<text x="169.32" y="433.40" font-size="8.4" fill="#474747" stroke="#474747" stroke-width="0.25" text-anchor="middle">96</text>
<text x="62.60" y="445.60" font-size="9.5" fill="#474747" stroke="#474747" stroke-width="0.25" font-weight="normal" textLength="89.40" lengthAdjust="spacingAndGlyphs">Time post-injection (hours)</text>
<g transform="translate(15.80,369.60) rotate(-90)"><text x="-24.90" y="0" font-size="9.6" fill="#474747" stroke="#474747" stroke-width="0.25" textLength="49.80" lengthAdjust="spacingAndGlyphs">HR (beats/min)</text></g>
<line x1="44.50" y1="322.40" x2="53.80" y2="322.40" stroke="#b4133c" stroke-width="1.6"/>
<circle cx="49.15" cy="322.40" r="2.40" fill="#b4133c"/>
<text x="57.40" y="325.00" font-size="7.8" fill="#484848" stroke="#484848" stroke-width="0.1" font-weight="normal" textLength="63.85" lengthAdjust="spacingAndGlyphs">IV (6 and 10 ug/kg)</text>
<line x1="44.50" y1="334.30" x2="53.80" y2="334.30" stroke="#2c4a7c" stroke-width="1.6"/>
<polygon points="49.15,331.60 51.85,334.30 49.15,337.00 46.45,334.30" fill="#2c4a7c"/>
<text x="57.40" y="336.90" font-size="7.8" fill="#484848" stroke="#484848" stroke-width="0.1" font-weight="normal" textLength="66.85" lengthAdjust="spacingAndGlyphs">SQ (6 and 10 ug/kg)</text>
<polyline points="46.20,389.25 56.46,391.25 66.72,391.00 76.98,392.00 87.24,391.25 97.50,391.00 107.76,390.30 118.02,388.30 128.28,385.90 138.54,381.25 148.80,379.50 159.06,382.00 169.32,383.75" fill="none" stroke="#2c4a7c" stroke-width="1.9" stroke-linejoin="round"/>
<line x1="148.80" y1="376.00" x2="148.80" y2="383.00" stroke="#2c4a7c" stroke-width="1.1"/>
<line x1="146.20" y1="376.00" x2="151.40" y2="376.00" stroke="#2c4a7c" stroke-width="1.1"/>
<line x1="146.20" y1="383.00" x2="151.40" y2="383.00" stroke="#2c4a7c" stroke-width="1.1"/>
<line x1="169.32" y1="379.00" x2="169.32" y2="389.00" stroke="#2c4a7c" stroke-width="1.1"/>
<line x1="166.72" y1="379.00" x2="171.92" y2="379.00" stroke="#2c4a7c" stroke-width="1.1"/>
<line x1="166.72" y1="389.00" x2="171.92" y2="389.00" stroke="#2c4a7c" stroke-width="1.1"/>
<polygon points="46.20,386.45 49.00,389.25 46.20,392.05 43.40,389.25" fill="#2c4a7c"/>
<polygon points="56.46,388.45 59.26,391.25 56.46,394.05 53.66,391.25" fill="#2c4a7c"/>
<polygon points="66.72,388.20 69.52,391.00 66.72,393.80 63.92,391.00" fill="#2c4a7c"/>
<polygon points="76.98,389.20 79.78,392.00 76.98,394.80 74.18,392.00" fill="#2c4a7c"/>
<polygon points="87.24,388.45 90.04,391.25 87.24,394.05 84.44,391.25" fill="#2c4a7c"/>
<polygon points="97.50,388.20 100.30,391.00 97.50,393.80 94.70,391.00" fill="#2c4a7c"/>
<polygon points="107.76,387.50 110.56,390.30 107.76,393.10 104.96,390.30" fill="#2c4a7c"/>
<polygon points="118.02,385.50 120.82,388.30 118.02,391.10 115.22,388.30" fill="#2c4a7c"/>
<polygon points="128.28,383.10 131.08,385.90 128.28,388.70 125.48,385.90" fill="#2c4a7c"/>
<polygon points="138.54,378.45 141.34,381.25 138.54,384.05 135.74,381.25" fill="#2c4a7c"/>
<polygon points="148.80,376.70 151.60,379.50 148.80,382.30 146.00,379.50" fill="#2c4a7c"/>
<polygon points="159.06,379.20 161.86,382.00 159.06,384.80 156.26,382.00" fill="#2c4a7c"/>
<polygon points="169.32,380.95 172.12,383.75 169.32,386.55 166.52,383.75" fill="#2c4a7c"/>
<polyline points="46.20,392.50 56.46,395.00 66.72,394.25 76.98,393.00 87.24,385.00 97.50,375.50 107.76,365.50 118.02,359.25 128.28,355.50 138.54,379.50 148.80,385.50 159.06,382.00 169.32,384.50" fill="none" stroke="#b4133c" stroke-width="1.9" stroke-linejoin="round"/>
<line x1="97.50" y1="371.00" x2="97.50" y2="380.00" stroke="#b4133c" stroke-width="1.1"/>
<line x1="94.90" y1="371.00" x2="100.10" y2="371.00" stroke="#b4133c" stroke-width="1.1"/>
<line x1="94.90" y1="380.00" x2="100.10" y2="380.00" stroke="#b4133c" stroke-width="1.1"/>
<line x1="107.76" y1="362.00" x2="107.76" y2="369.00" stroke="#b4133c" stroke-width="1.1"/>
<line x1="105.16" y1="362.00" x2="110.36" y2="362.00" stroke="#b4133c" stroke-width="1.1"/>
<line x1="105.16" y1="369.00" x2="110.36" y2="369.00" stroke="#b4133c" stroke-width="1.1"/>
<line x1="118.02" y1="356.00" x2="118.02" y2="362.00" stroke="#b4133c" stroke-width="1.1"/>
<line x1="115.42" y1="356.00" x2="120.62" y2="356.00" stroke="#b4133c" stroke-width="1.1"/>
<line x1="115.42" y1="362.00" x2="120.62" y2="362.00" stroke="#b4133c" stroke-width="1.1"/>
<line x1="128.28" y1="352.00" x2="128.28" y2="358.00" stroke="#b4133c" stroke-width="1.1"/>
<line x1="125.68" y1="352.00" x2="130.88" y2="352.00" stroke="#b4133c" stroke-width="1.1"/>
<line x1="125.68" y1="358.00" x2="130.88" y2="358.00" stroke="#b4133c" stroke-width="1.1"/>
<line x1="138.54" y1="376.00" x2="138.54" y2="383.00" stroke="#b4133c" stroke-width="1.1"/>
<line x1="135.94" y1="376.00" x2="141.14" y2="376.00" stroke="#b4133c" stroke-width="1.1"/>
<line x1="135.94" y1="383.00" x2="141.14" y2="383.00" stroke="#b4133c" stroke-width="1.1"/>
<line x1="148.80" y1="380.00" x2="148.80" y2="391.00" stroke="#b4133c" stroke-width="1.1"/>
<line x1="146.20" y1="380.00" x2="151.40" y2="380.00" stroke="#b4133c" stroke-width="1.1"/>
<line x1="146.20" y1="391.00" x2="151.40" y2="391.00" stroke="#b4133c" stroke-width="1.1"/>
<line x1="159.06" y1="378.00" x2="159.06" y2="386.00" stroke="#b4133c" stroke-width="1.1"/>
<line x1="156.46" y1="378.00" x2="161.66" y2="378.00" stroke="#b4133c" stroke-width="1.1"/>
<line x1="156.46" y1="386.00" x2="161.66" y2="386.00" stroke="#b4133c" stroke-width="1.1"/>
<line x1="169.32" y1="380.00" x2="169.32" y2="389.00" stroke="#b4133c" stroke-width="1.1"/>
<line x1="166.72" y1="380.00" x2="171.92" y2="380.00" stroke="#b4133c" stroke-width="1.1"/>
<line x1="166.72" y1="389.00" x2="171.92" y2="389.00" stroke="#b4133c" stroke-width="1.1"/>
<circle cx="46.20" cy="392.50" r="2.80" fill="#b4133c"/>
<circle cx="56.46" cy="395.00" r="2.80" fill="#b4133c"/>
<circle cx="66.72" cy="394.25" r="2.80" fill="#b4133c"/>
<circle cx="76.98" cy="393.00" r="2.80" fill="#b4133c"/>
<circle cx="87.24" cy="385.00" r="2.80" fill="#b4133c"/>
<circle cx="97.50" cy="375.50" r="2.80" fill="#b4133c"/>
<circle cx="107.76" cy="365.50" r="2.80" fill="#b4133c"/>
<circle cx="118.02" cy="359.25" r="2.80" fill="#b4133c"/>
<circle cx="128.28" cy="355.50" r="2.80" fill="#b4133c"/>
<circle cx="138.54" cy="379.50" r="2.80" fill="#b4133c"/>
<circle cx="148.80" cy="385.50" r="2.80" fill="#b4133c"/>
<circle cx="159.06" cy="382.00" r="2.80" fill="#b4133c"/>
<circle cx="169.32" cy="384.50" r="2.80" fill="#b4133c"/>
<text x="177.80" y="315.60" font-size="10.61" font-weight="bold" fill="#000" stroke="#000" stroke-width="0.55" textLength="6.10" lengthAdjust="spacingAndGlyphs">F</text>
<line x1="210.00" y1="320.40" x2="210.00" y2="420.30" stroke="#000" stroke-width="1.5"/>
<line x1="206.50" y1="323.20" x2="210.00" y2="323.20" stroke="#000" stroke-width="1.1"/>
<text x="204.70" y="326.30" font-size="8.6" fill="#474747" stroke="#474747" stroke-width="0.25" text-anchor="end">104</text>
<line x1="206.50" y1="336.80" x2="210.00" y2="336.80" stroke="#000" stroke-width="1.1"/>
<text x="204.70" y="339.90" font-size="8.6" fill="#474747" stroke="#474747" stroke-width="0.25" text-anchor="end">103</text>
<line x1="206.50" y1="350.40" x2="210.00" y2="350.40" stroke="#000" stroke-width="1.1"/>
<text x="204.70" y="353.50" font-size="8.6" fill="#474747" stroke="#474747" stroke-width="0.25" text-anchor="end">102</text>
<line x1="206.50" y1="364.00" x2="210.00" y2="364.00" stroke="#000" stroke-width="1.1"/>
<text x="204.70" y="367.10" font-size="8.6" fill="#474747" stroke="#474747" stroke-width="0.25" text-anchor="end">101</text>
<line x1="206.50" y1="377.60" x2="210.00" y2="377.60" stroke="#000" stroke-width="1.1"/>
<text x="204.70" y="380.70" font-size="8.6" fill="#474747" stroke="#474747" stroke-width="0.25" text-anchor="end">100</text>
<line x1="206.50" y1="391.20" x2="210.00" y2="391.20" stroke="#000" stroke-width="1.1"/>
<text x="204.70" y="394.30" font-size="8.6" fill="#474747" stroke="#474747" stroke-width="0.25" text-anchor="end">99</text>
<line x1="206.50" y1="404.80" x2="210.00" y2="404.80" stroke="#000" stroke-width="1.1"/>
<text x="204.70" y="407.90" font-size="8.6" fill="#474747" stroke="#474747" stroke-width="0.25" text-anchor="end">98</text>
<line x1="206.50" y1="418.40" x2="210.00" y2="418.40" stroke="#000" stroke-width="1.1"/>
<text x="204.70" y="421.50" font-size="8.6" fill="#474747" stroke="#474747" stroke-width="0.25" text-anchor="end">97</text>
<line x1="210.00" y1="419.50" x2="342.00" y2="419.50" stroke="#000" stroke-width="1.5"/>
<line x1="215.20" y1="419.50" x2="215.20" y2="422.50" stroke="#000" stroke-width="1.0"/>
<text x="215.20" y="433.40" font-size="8.4" fill="#474747" stroke="#474747" stroke-width="0.25" text-anchor="middle">0</text>
<line x1="225.47" y1="419.50" x2="225.47" y2="422.50" stroke="#000" stroke-width="1.0"/>
<text x="225.47" y="433.40" font-size="8.4" fill="#474747" stroke="#474747" stroke-width="0.25" text-anchor="middle">.25</text>
<line x1="235.74" y1="419.50" x2="235.74" y2="422.50" stroke="#000" stroke-width="1.0"/>
<text x="235.74" y="433.40" font-size="8.4" fill="#474747" stroke="#474747" stroke-width="0.25" text-anchor="middle">.5</text>
<line x1="246.01" y1="419.50" x2="246.01" y2="422.50" stroke="#000" stroke-width="1.0"/>
<text x="246.01" y="433.40" font-size="8.4" fill="#474747" stroke="#474747" stroke-width="0.25" text-anchor="middle">1</text>
<line x1="256.28" y1="419.50" x2="256.28" y2="422.50" stroke="#000" stroke-width="1.0"/>
<text x="256.28" y="433.40" font-size="8.4" fill="#474747" stroke="#474747" stroke-width="0.25" text-anchor="middle">2</text>
<line x1="266.55" y1="419.50" x2="266.55" y2="422.50" stroke="#000" stroke-width="1.0"/>
<text x="266.55" y="433.40" font-size="8.4" fill="#474747" stroke="#474747" stroke-width="0.25" text-anchor="middle">3</text>
<line x1="276.82" y1="419.50" x2="276.82" y2="422.50" stroke="#000" stroke-width="1.0"/>
<text x="276.82" y="433.40" font-size="8.4" fill="#474747" stroke="#474747" stroke-width="0.25" text-anchor="middle">4</text>
<line x1="287.09" y1="419.50" x2="287.09" y2="422.50" stroke="#000" stroke-width="1.0"/>
<text x="287.09" y="433.40" font-size="8.4" fill="#474747" stroke="#474747" stroke-width="0.25" text-anchor="middle">5</text>
<line x1="297.36" y1="419.50" x2="297.36" y2="422.50" stroke="#000" stroke-width="1.0"/>
<text x="297.36" y="433.40" font-size="8.4" fill="#474747" stroke="#474747" stroke-width="0.25" text-anchor="middle">6</text>
<line x1="307.63" y1="419.50" x2="307.63" y2="422.50" stroke="#000" stroke-width="1.0"/>
<text x="307.63" y="433.40" font-size="8.4" fill="#474747" stroke="#474747" stroke-width="0.25" text-anchor="middle">24</text>
<line x1="317.90" y1="419.50" x2="317.90" y2="422.50" stroke="#000" stroke-width="1.0"/>
<text x="317.90" y="433.40" font-size="8.4" fill="#474747" stroke="#474747" stroke-width="0.25" text-anchor="middle">48</text>
<line x1="328.17" y1="419.50" x2="328.17" y2="422.50" stroke="#000" stroke-width="1.0"/>
<text x="328.17" y="433.40" font-size="8.4" fill="#474747" stroke="#474747" stroke-width="0.25" text-anchor="middle">72</text>
<line x1="338.44" y1="419.50" x2="338.44" y2="422.50" stroke="#000" stroke-width="1.0"/>
<text x="338.44" y="433.40" font-size="8.4" fill="#474747" stroke="#474747" stroke-width="0.25" text-anchor="middle">96</text>
<text x="253.30" y="445.60" font-size="9.5" fill="#474747" stroke="#474747" stroke-width="0.25" font-weight="normal" textLength="45.30" lengthAdjust="spacingAndGlyphs">Time in hours</text>
<g transform="translate(185.00,369.85) rotate(-90)"><text x="-27.55" y="0" font-size="9.4" fill="#474747" stroke="#474747" stroke-width="0.25" textLength="55.10" lengthAdjust="spacingAndGlyphs">Temperature (°F)</text></g>
<line x1="213.60" y1="322.40" x2="223.00" y2="322.40" stroke="#b4133c" stroke-width="1.6"/>
<circle cx="218.30" cy="322.40" r="2.40" fill="#b4133c"/>
<text x="226.50" y="325.00" font-size="7.8" fill="#484848" stroke="#484848" stroke-width="0.1" font-weight="normal" textLength="63.00" lengthAdjust="spacingAndGlyphs">IV (6 and 10 ug/kg)</text>
<line x1="213.60" y1="334.30" x2="223.00" y2="334.30" stroke="#2c4a7c" stroke-width="1.6"/>
<polygon points="218.30,331.60 221.00,334.30 218.30,337.00 215.60,334.30" fill="#2c4a7c"/>
<text x="226.50" y="336.90" font-size="7.8" fill="#484848" stroke="#484848" stroke-width="0.1" font-weight="normal" textLength="67.25" lengthAdjust="spacingAndGlyphs">SQ (6 and 10 ug/kg)</text>
<polyline points="215.20,402.00 225.47,402.00 235.74,404.00 246.01,404.00 256.28,403.50 266.55,408.00 276.82,404.00 287.09,400.50 297.36,399.50 307.63,396.50 317.90,395.60 328.17,399.50 338.44,398.70" fill="none" stroke="#2c4a7c" stroke-width="1.9" stroke-linejoin="round"/>
<line x1="328.17" y1="396.00" x2="328.17" y2="403.00" stroke="#2c4a7c" stroke-width="1.1"/>
<line x1="325.57" y1="396.00" x2="330.77" y2="396.00" stroke="#2c4a7c" stroke-width="1.1"/>
<line x1="325.57" y1="403.00" x2="330.77" y2="403.00" stroke="#2c4a7c" stroke-width="1.1"/>
<polygon points="215.20,399.20 218.00,402.00 215.20,404.80 212.40,402.00" fill="#2c4a7c"/>
<polygon points="225.47,399.20 228.27,402.00 225.47,404.80 222.67,402.00" fill="#2c4a7c"/>
<polygon points="235.74,401.20 238.54,404.00 235.74,406.80 232.94,404.00" fill="#2c4a7c"/>
<polygon points="246.01,401.20 248.81,404.00 246.01,406.80 243.21,404.00" fill="#2c4a7c"/>
<polygon points="256.28,400.70 259.08,403.50 256.28,406.30 253.48,403.50" fill="#2c4a7c"/>
<polygon points="266.55,405.20 269.35,408.00 266.55,410.80 263.75,408.00" fill="#2c4a7c"/>
<polygon points="276.82,401.20 279.62,404.00 276.82,406.80 274.02,404.00" fill="#2c4a7c"/>
<polygon points="287.09,397.70 289.89,400.50 287.09,403.30 284.29,400.50" fill="#2c4a7c"/>
<polygon points="297.36,396.70 300.16,399.50 297.36,402.30 294.56,399.50" fill="#2c4a7c"/>
<polygon points="307.63,393.70 310.43,396.50 307.63,399.30 304.83,396.50" fill="#2c4a7c"/>
<polygon points="317.90,392.80 320.70,395.60 317.90,398.40 315.10,395.60" fill="#2c4a7c"/>
<polygon points="328.17,396.70 330.97,399.50 328.17,402.30 325.37,399.50" fill="#2c4a7c"/>
<polygon points="338.44,395.90 341.24,398.70 338.44,401.50 335.64,398.70" fill="#2c4a7c"/>
<polyline points="215.20,406.30 225.47,404.00 235.74,403.50 246.01,402.00 256.28,401.10 266.55,390.50 276.82,378.60 287.09,360.10 297.36,357.70 307.63,396.20 317.90,401.00 328.17,401.50 338.44,402.70" fill="none" stroke="#b4133c" stroke-width="1.9" stroke-linejoin="round"/>
<line x1="266.55" y1="386.50" x2="266.55" y2="395.00" stroke="#b4133c" stroke-width="1.1"/>
<line x1="263.95" y1="386.50" x2="269.15" y2="386.50" stroke="#b4133c" stroke-width="1.1"/>
<line x1="263.95" y1="395.00" x2="269.15" y2="395.00" stroke="#b4133c" stroke-width="1.1"/>
<line x1="276.82" y1="373.75" x2="276.82" y2="384.50" stroke="#b4133c" stroke-width="1.1"/>
<line x1="274.22" y1="373.75" x2="279.42" y2="373.75" stroke="#b4133c" stroke-width="1.1"/>
<line x1="274.22" y1="384.50" x2="279.42" y2="384.50" stroke="#b4133c" stroke-width="1.1"/>
<line x1="287.09" y1="355.00" x2="287.09" y2="365.50" stroke="#b4133c" stroke-width="1.1"/>
<line x1="284.49" y1="355.00" x2="289.69" y2="355.00" stroke="#b4133c" stroke-width="1.1"/>
<line x1="284.49" y1="365.50" x2="289.69" y2="365.50" stroke="#b4133c" stroke-width="1.1"/>
<line x1="297.36" y1="353.00" x2="297.36" y2="362.00" stroke="#b4133c" stroke-width="1.1"/>
<line x1="294.76" y1="353.00" x2="299.96" y2="353.00" stroke="#b4133c" stroke-width="1.1"/>
<line x1="294.76" y1="362.00" x2="299.96" y2="362.00" stroke="#b4133c" stroke-width="1.1"/>
<line x1="317.90" y1="397.50" x2="317.90" y2="404.50" stroke="#b4133c" stroke-width="1.1"/>
<line x1="315.30" y1="397.50" x2="320.50" y2="397.50" stroke="#b4133c" stroke-width="1.1"/>
<line x1="315.30" y1="404.50" x2="320.50" y2="404.50" stroke="#b4133c" stroke-width="1.1"/>
<line x1="328.17" y1="398.75" x2="328.17" y2="405.50" stroke="#b4133c" stroke-width="1.1"/>
<line x1="325.57" y1="398.75" x2="330.77" y2="398.75" stroke="#b4133c" stroke-width="1.1"/>
<line x1="325.57" y1="405.50" x2="330.77" y2="405.50" stroke="#b4133c" stroke-width="1.1"/>
<circle cx="215.20" cy="406.30" r="2.80" fill="#b4133c"/>
<circle cx="225.47" cy="404.00" r="2.80" fill="#b4133c"/>
<circle cx="235.74" cy="403.50" r="2.80" fill="#b4133c"/>
<circle cx="246.01" cy="402.00" r="2.80" fill="#b4133c"/>
<circle cx="256.28" cy="401.10" r="2.80" fill="#b4133c"/>
<circle cx="266.55" cy="390.50" r="2.80" fill="#b4133c"/>
<circle cx="276.82" cy="378.60" r="2.80" fill="#b4133c"/>
<circle cx="287.09" cy="360.10" r="2.80" fill="#b4133c"/>
<circle cx="297.36" cy="357.70" r="2.80" fill="#b4133c"/>
<circle cx="307.63" cy="396.20" r="2.80" fill="#b4133c"/>
<circle cx="317.90" cy="401.00" r="2.80" fill="#b4133c"/>
<circle cx="328.17" cy="401.50" r="2.80" fill="#b4133c"/>
<circle cx="338.44" cy="402.70" r="2.80" fill="#b4133c"/>
<text x="347.90" y="315.60" font-size="10.75" font-weight="bold" fill="#000" stroke="#000" stroke-width="0.55" textLength="7.40" lengthAdjust="spacingAndGlyphs">G</text>
<line x1="379.00" y1="320.80" x2="379.00" y2="420.30" stroke="#000" stroke-width="1.5"/>
<line x1="375.50" y1="323.20" x2="379.00" y2="323.20" stroke="#000" stroke-width="1.1"/>
<text x="373.20" y="326.30" font-size="8.6" fill="#474747" stroke="#474747" stroke-width="0.25" text-anchor="end">140</text>
<line x1="375.50" y1="347.25" x2="379.00" y2="347.25" stroke="#000" stroke-width="1.1"/>
<text x="373.20" y="350.35" font-size="8.6" fill="#474747" stroke="#474747" stroke-width="0.25" text-anchor="end">130</text>
<line x1="375.50" y1="371.30" x2="379.00" y2="371.30" stroke="#000" stroke-width="1.1"/>
<text x="373.20" y="374.40" font-size="8.6" fill="#474747" stroke="#474747" stroke-width="0.25" text-anchor="end">120</text>
<line x1="375.50" y1="395.35" x2="379.00" y2="395.35" stroke="#000" stroke-width="1.1"/>
<text x="373.20" y="398.45" font-size="8.6" fill="#474747" stroke="#474747" stroke-width="0.25" text-anchor="end">110</text>
<line x1="375.50" y1="419.40" x2="379.00" y2="419.40" stroke="#000" stroke-width="1.1"/>
<text x="373.20" y="422.50" font-size="8.6" fill="#474747" stroke="#474747" stroke-width="0.25" text-anchor="end">100</text>
<line x1="379.00" y1="419.50" x2="510.50" y2="419.50" stroke="#000" stroke-width="1.5"/>
<line x1="384.20" y1="419.50" x2="384.20" y2="422.50" stroke="#000" stroke-width="1.0"/>
<text x="384.20" y="433.40" font-size="8.4" fill="#474747" stroke="#474747" stroke-width="0.25" text-anchor="middle">0</text>
<line x1="394.47" y1="419.50" x2="394.47" y2="422.50" stroke="#000" stroke-width="1.0"/>
<text x="394.47" y="433.40" font-size="8.4" fill="#474747" stroke="#474747" stroke-width="0.25" text-anchor="middle">.25</text>
<line x1="404.74" y1="419.50" x2="404.74" y2="422.50" stroke="#000" stroke-width="1.0"/>
<text x="404.74" y="433.40" font-size="8.4" fill="#474747" stroke="#474747" stroke-width="0.25" text-anchor="middle">.5</text>
<line x1="415.01" y1="419.50" x2="415.01" y2="422.50" stroke="#000" stroke-width="1.0"/>
<text x="415.01" y="433.40" font-size="8.4" fill="#474747" stroke="#474747" stroke-width="0.25" text-anchor="middle">1</text>
<line x1="425.28" y1="419.50" x2="425.28" y2="422.50" stroke="#000" stroke-width="1.0"/>
<text x="425.28" y="433.40" font-size="8.4" fill="#474747" stroke="#474747" stroke-width="0.25" text-anchor="middle">2</text>
<line x1="435.55" y1="419.50" x2="435.55" y2="422.50" stroke="#000" stroke-width="1.0"/>
<text x="435.55" y="433.40" font-size="8.4" fill="#474747" stroke="#474747" stroke-width="0.25" text-anchor="middle">3</text>
<line x1="445.82" y1="419.50" x2="445.82" y2="422.50" stroke="#000" stroke-width="1.0"/>
<text x="445.82" y="433.40" font-size="8.4" fill="#474747" stroke="#474747" stroke-width="0.25" text-anchor="middle">4</text>
<line x1="456.09" y1="419.50" x2="456.09" y2="422.50" stroke="#000" stroke-width="1.0"/>
<text x="456.09" y="433.40" font-size="8.4" fill="#474747" stroke="#474747" stroke-width="0.25" text-anchor="middle">5</text>
<line x1="466.36" y1="419.50" x2="466.36" y2="422.50" stroke="#000" stroke-width="1.0"/>
<text x="466.36" y="433.40" font-size="8.4" fill="#474747" stroke="#474747" stroke-width="0.25" text-anchor="middle">6</text>
<line x1="476.63" y1="419.50" x2="476.63" y2="422.50" stroke="#000" stroke-width="1.0"/>
<text x="476.63" y="433.40" font-size="8.4" fill="#474747" stroke="#474747" stroke-width="0.25" text-anchor="middle">24</text>
<line x1="486.90" y1="419.50" x2="486.90" y2="422.50" stroke="#000" stroke-width="1.0"/>
<text x="486.90" y="433.40" font-size="8.4" fill="#474747" stroke="#474747" stroke-width="0.25" text-anchor="middle">48</text>
<line x1="497.17" y1="419.50" x2="497.17" y2="422.50" stroke="#000" stroke-width="1.0"/>
<text x="497.17" y="433.40" font-size="8.4" fill="#474747" stroke="#474747" stroke-width="0.25" text-anchor="middle">72</text>
<line x1="507.44" y1="419.50" x2="507.44" y2="422.50" stroke="#000" stroke-width="1.0"/>
<text x="507.44" y="433.40" font-size="8.4" fill="#474747" stroke="#474747" stroke-width="0.25" text-anchor="middle">96</text>
<text x="422.00" y="445.60" font-size="9.5" fill="#474747" stroke="#474747" stroke-width="0.25" font-weight="normal" textLength="45.00" lengthAdjust="spacingAndGlyphs">Time in hours</text>
<g transform="translate(354.30,369.80) rotate(-90)"><text x="-33.80" y="0" font-size="9.5" fill="#474747" stroke="#474747" stroke-width="0.25" textLength="67.60" lengthAdjust="spacingAndGlyphs">Systolic BP (mmHg)</text></g>
<line x1="382.50" y1="322.40" x2="391.80" y2="322.40" stroke="#b4133c" stroke-width="1.6"/>
<circle cx="387.15" cy="322.40" r="2.40" fill="#b4133c"/>
<text x="393.40" y="325.00" font-size="7.8" fill="#484848" stroke="#484848" stroke-width="0.1" font-weight="normal" textLength="65.35" lengthAdjust="spacingAndGlyphs">IV (6 and 10 ug/kg)</text>
<line x1="382.50" y1="334.30" x2="391.80" y2="334.30" stroke="#2c4a7c" stroke-width="1.6"/>
<polygon points="387.15,331.60 389.85,334.30 387.15,337.00 384.45,334.30" fill="#2c4a7c"/>
<text x="393.40" y="336.90" font-size="7.8" fill="#484848" stroke="#484848" stroke-width="0.1" font-weight="normal" textLength="69.10" lengthAdjust="spacingAndGlyphs">SQ (6 and 10 ug/kg)</text>
<polyline points="384.20,379.20 394.47,383.70 404.74,385.10 415.01,387.10 425.28,388.75 435.55,385.50 445.82,372.80 456.09,381.25 466.36,373.75 476.63,370.00 486.90,366.25 497.17,361.25 507.44,380.50" fill="none" stroke="#2c4a7c" stroke-width="1.9" stroke-linejoin="round"/>
<line x1="384.20" y1="373.00" x2="384.20" y2="385.00" stroke="#2c4a7c" stroke-width="1.1"/>
<line x1="381.60" y1="373.00" x2="386.80" y2="373.00" stroke="#2c4a7c" stroke-width="1.1"/>
<line x1="381.60" y1="385.00" x2="386.80" y2="385.00" stroke="#2c4a7c" stroke-width="1.1"/>
<line x1="394.47" y1="376.00" x2="394.47" y2="390.50" stroke="#2c4a7c" stroke-width="1.1"/>
<line x1="391.87" y1="376.00" x2="397.07" y2="376.00" stroke="#2c4a7c" stroke-width="1.1"/>
<line x1="391.87" y1="390.50" x2="397.07" y2="390.50" stroke="#2c4a7c" stroke-width="1.1"/>
<line x1="404.74" y1="377.00" x2="404.74" y2="393.00" stroke="#2c4a7c" stroke-width="1.1"/>
<line x1="402.14" y1="377.00" x2="407.34" y2="377.00" stroke="#2c4a7c" stroke-width="1.1"/>
<line x1="402.14" y1="393.00" x2="407.34" y2="393.00" stroke="#2c4a7c" stroke-width="1.1"/>
<line x1="415.01" y1="379.00" x2="415.01" y2="393.00" stroke="#2c4a7c" stroke-width="1.1"/>
<line x1="412.41" y1="379.00" x2="417.61" y2="379.00" stroke="#2c4a7c" stroke-width="1.1"/>
<line x1="412.41" y1="393.00" x2="417.61" y2="393.00" stroke="#2c4a7c" stroke-width="1.1"/>
<line x1="425.28" y1="381.00" x2="425.28" y2="396.00" stroke="#2c4a7c" stroke-width="1.1"/>
<line x1="422.68" y1="381.00" x2="427.88" y2="381.00" stroke="#2c4a7c" stroke-width="1.1"/>
<line x1="422.68" y1="396.00" x2="427.88" y2="396.00" stroke="#2c4a7c" stroke-width="1.1"/>
<line x1="435.55" y1="378.75" x2="435.55" y2="393.75" stroke="#2c4a7c" stroke-width="1.1"/>
<line x1="432.95" y1="378.75" x2="438.15" y2="378.75" stroke="#2c4a7c" stroke-width="1.1"/>
<line x1="432.95" y1="393.75" x2="438.15" y2="393.75" stroke="#2c4a7c" stroke-width="1.1"/>
<line x1="445.82" y1="363.75" x2="445.82" y2="381.25" stroke="#2c4a7c" stroke-width="1.1"/>
<line x1="443.22" y1="363.75" x2="448.42" y2="363.75" stroke="#2c4a7c" stroke-width="1.1"/>
<line x1="443.22" y1="381.25" x2="448.42" y2="381.25" stroke="#2c4a7c" stroke-width="1.1"/>
<line x1="456.09" y1="373.75" x2="456.09" y2="388.75" stroke="#2c4a7c" stroke-width="1.1"/>
<line x1="453.49" y1="373.75" x2="458.69" y2="373.75" stroke="#2c4a7c" stroke-width="1.1"/>
<line x1="453.49" y1="388.75" x2="458.69" y2="388.75" stroke="#2c4a7c" stroke-width="1.1"/>
<line x1="466.36" y1="365.00" x2="466.36" y2="381.25" stroke="#2c4a7c" stroke-width="1.1"/>
<line x1="463.76" y1="365.00" x2="468.96" y2="365.00" stroke="#2c4a7c" stroke-width="1.1"/>
<line x1="463.76" y1="381.25" x2="468.96" y2="381.25" stroke="#2c4a7c" stroke-width="1.1"/>
<line x1="476.63" y1="364.50" x2="476.63" y2="375.00" stroke="#2c4a7c" stroke-width="1.1"/>
<line x1="474.03" y1="364.50" x2="479.23" y2="364.50" stroke="#2c4a7c" stroke-width="1.1"/>
<line x1="474.03" y1="375.00" x2="479.23" y2="375.00" stroke="#2c4a7c" stroke-width="1.1"/>
<line x1="486.90" y1="354.50" x2="486.90" y2="380.00" stroke="#2c4a7c" stroke-width="1.1"/>
<line x1="484.30" y1="354.50" x2="489.50" y2="354.50" stroke="#2c4a7c" stroke-width="1.1"/>
<line x1="484.30" y1="380.00" x2="489.50" y2="380.00" stroke="#2c4a7c" stroke-width="1.1"/>
<line x1="497.17" y1="350.00" x2="497.17" y2="378.75" stroke="#2c4a7c" stroke-width="1.1"/>
<line x1="494.57" y1="350.00" x2="499.77" y2="350.00" stroke="#2c4a7c" stroke-width="1.1"/>
<line x1="494.57" y1="378.75" x2="499.77" y2="378.75" stroke="#2c4a7c" stroke-width="1.1"/>
<line x1="507.44" y1="372.50" x2="507.44" y2="393.75" stroke="#2c4a7c" stroke-width="1.1"/>
<line x1="504.84" y1="372.50" x2="510.04" y2="372.50" stroke="#2c4a7c" stroke-width="1.1"/>
<line x1="504.84" y1="393.75" x2="510.04" y2="393.75" stroke="#2c4a7c" stroke-width="1.1"/>
<polygon points="384.20,376.40 387.00,379.20 384.20,382.00 381.40,379.20" fill="#2c4a7c"/>
<polygon points="394.47,380.90 397.27,383.70 394.47,386.50 391.67,383.70" fill="#2c4a7c"/>
<polygon points="404.74,382.30 407.54,385.10 404.74,387.90 401.94,385.10" fill="#2c4a7c"/>
<polygon points="415.01,384.30 417.81,387.10 415.01,389.90 412.21,387.10" fill="#2c4a7c"/>
<polygon points="425.28,385.95 428.08,388.75 425.28,391.55 422.48,388.75" fill="#2c4a7c"/>
<polygon points="435.55,382.70 438.35,385.50 435.55,388.30 432.75,385.50" fill="#2c4a7c"/>
<polygon points="445.82,370.00 448.62,372.80 445.82,375.60 443.02,372.80" fill="#2c4a7c"/>
<polygon points="456.09,378.45 458.89,381.25 456.09,384.05 453.29,381.25" fill="#2c4a7c"/>
<polygon points="466.36,370.95 469.16,373.75 466.36,376.55 463.56,373.75" fill="#2c4a7c"/>
<polygon points="476.63,367.20 479.43,370.00 476.63,372.80 473.83,370.00" fill="#2c4a7c"/>
<polygon points="486.90,363.45 489.70,366.25 486.90,369.05 484.10,366.25" fill="#2c4a7c"/>
<polygon points="497.17,358.45 499.97,361.25 497.17,364.05 494.37,361.25" fill="#2c4a7c"/>
<polygon points="507.44,377.70 510.24,380.50 507.44,383.30 504.64,380.50" fill="#2c4a7c"/>
<polyline points="384.20,371.90 394.47,372.60 404.74,366.70 415.01,368.70 425.28,357.00 435.55,352.50 445.82,353.25 456.09,360.75 466.36,365.50 476.63,393.75 486.90,397.50 497.17,371.25 507.44,382.00" fill="none" stroke="#b4133c" stroke-width="1.9" stroke-linejoin="round"/>
<line x1="384.20" y1="364.30" x2="384.20" y2="378.60" stroke="#b4133c" stroke-width="1.1"/>
<line x1="381.60" y1="364.30" x2="386.80" y2="364.30" stroke="#b4133c" stroke-width="1.1"/>
<line x1="381.60" y1="378.60" x2="386.80" y2="378.60" stroke="#b4133c" stroke-width="1.1"/>
<line x1="394.47" y1="363.90" x2="394.47" y2="381.00" stroke="#b4133c" stroke-width="1.1"/>
<line x1="391.87" y1="363.90" x2="397.07" y2="363.90" stroke="#b4133c" stroke-width="1.1"/>
<line x1="391.87" y1="381.00" x2="397.07" y2="381.00" stroke="#b4133c" stroke-width="1.1"/>
<line x1="404.74" y1="358.00" x2="404.74" y2="375.20" stroke="#b4133c" stroke-width="1.1"/>
<line x1="402.14" y1="358.00" x2="407.34" y2="358.00" stroke="#b4133c" stroke-width="1.1"/>
<line x1="402.14" y1="375.20" x2="407.34" y2="375.20" stroke="#b4133c" stroke-width="1.1"/>
<line x1="415.01" y1="361.40" x2="415.01" y2="376.20" stroke="#b4133c" stroke-width="1.1"/>
<line x1="412.41" y1="361.40" x2="417.61" y2="361.40" stroke="#b4133c" stroke-width="1.1"/>
<line x1="412.41" y1="376.20" x2="417.61" y2="376.20" stroke="#b4133c" stroke-width="1.1"/>
<line x1="425.28" y1="348.50" x2="425.28" y2="366.30" stroke="#b4133c" stroke-width="1.1"/>
<line x1="422.68" y1="348.50" x2="427.88" y2="348.50" stroke="#b4133c" stroke-width="1.1"/>
<line x1="422.68" y1="366.30" x2="427.88" y2="366.30" stroke="#b4133c" stroke-width="1.1"/>
<line x1="435.55" y1="341.00" x2="435.55" y2="364.00" stroke="#b4133c" stroke-width="1.1"/>
<line x1="432.95" y1="341.00" x2="438.15" y2="341.00" stroke="#b4133c" stroke-width="1.1"/>
<line x1="432.95" y1="364.00" x2="438.15" y2="364.00" stroke="#b4133c" stroke-width="1.1"/>
<line x1="445.82" y1="342.00" x2="445.82" y2="364.00" stroke="#b4133c" stroke-width="1.1"/>
<line x1="443.22" y1="342.00" x2="448.42" y2="342.00" stroke="#b4133c" stroke-width="1.1"/>
<line x1="443.22" y1="364.00" x2="448.42" y2="364.00" stroke="#b4133c" stroke-width="1.1"/>
<line x1="456.09" y1="348.75" x2="456.09" y2="373.75" stroke="#b4133c" stroke-width="1.1"/>
<line x1="453.49" y1="348.75" x2="458.69" y2="348.75" stroke="#b4133c" stroke-width="1.1"/>
<line x1="453.49" y1="373.75" x2="458.69" y2="373.75" stroke="#b4133c" stroke-width="1.1"/>
<line x1="466.36" y1="355.00" x2="466.36" y2="375.00" stroke="#b4133c" stroke-width="1.1"/>
<line x1="463.76" y1="355.00" x2="468.96" y2="355.00" stroke="#b4133c" stroke-width="1.1"/>
<line x1="463.76" y1="375.00" x2="468.96" y2="375.00" stroke="#b4133c" stroke-width="1.1"/>
<line x1="476.63" y1="385.50" x2="476.63" y2="402.00" stroke="#b4133c" stroke-width="1.1"/>
<line x1="474.03" y1="385.50" x2="479.23" y2="385.50" stroke="#b4133c" stroke-width="1.1"/>
<line x1="474.03" y1="402.00" x2="479.23" y2="402.00" stroke="#b4133c" stroke-width="1.1"/>
<line x1="486.90" y1="379.50" x2="486.90" y2="414.20" stroke="#b4133c" stroke-width="1.1"/>
<line x1="484.30" y1="379.50" x2="489.50" y2="379.50" stroke="#b4133c" stroke-width="1.1"/>
<line x1="484.30" y1="414.20" x2="489.50" y2="414.20" stroke="#b4133c" stroke-width="1.1"/>
<line x1="497.17" y1="352.50" x2="497.17" y2="388.75" stroke="#b4133c" stroke-width="1.1"/>
<line x1="494.57" y1="352.50" x2="499.77" y2="352.50" stroke="#b4133c" stroke-width="1.1"/>
<line x1="494.57" y1="388.75" x2="499.77" y2="388.75" stroke="#b4133c" stroke-width="1.1"/>
<line x1="507.44" y1="372.50" x2="507.44" y2="388.75" stroke="#b4133c" stroke-width="1.1"/>
<line x1="504.84" y1="372.50" x2="510.04" y2="372.50" stroke="#b4133c" stroke-width="1.1"/>
<line x1="504.84" y1="388.75" x2="510.04" y2="388.75" stroke="#b4133c" stroke-width="1.1"/>
<circle cx="384.20" cy="371.90" r="2.80" fill="#b4133c"/>
<circle cx="394.47" cy="372.60" r="2.80" fill="#b4133c"/>
<circle cx="404.74" cy="366.70" r="2.80" fill="#b4133c"/>
<circle cx="415.01" cy="368.70" r="2.80" fill="#b4133c"/>
<circle cx="425.28" cy="357.00" r="2.80" fill="#b4133c"/>
<circle cx="435.55" cy="352.50" r="2.80" fill="#b4133c"/>
<circle cx="445.82" cy="353.25" r="2.80" fill="#b4133c"/>
<circle cx="456.09" cy="360.75" r="2.80" fill="#b4133c"/>
<circle cx="466.36" cy="365.50" r="2.80" fill="#b4133c"/>
<circle cx="476.63" cy="393.75" r="2.80" fill="#b4133c"/>
<circle cx="486.90" cy="397.50" r="2.80" fill="#b4133c"/>
<circle cx="497.17" cy="371.25" r="2.80" fill="#b4133c"/>
<circle cx="507.44" cy="382.00" r="2.80" fill="#b4133c"/>
<rect x="0" y="0" width="520" height="1.4" fill="#000"/>
<rect x="0" y="0" width="1.2" height="455" fill="#000"/>
<rect x="518.7" y="0" width="1.3" height="455" fill="#000"/>
<rect x="0" y="453.6" width="520" height="1.4" fill="#000"/>
</svg></body></html>
